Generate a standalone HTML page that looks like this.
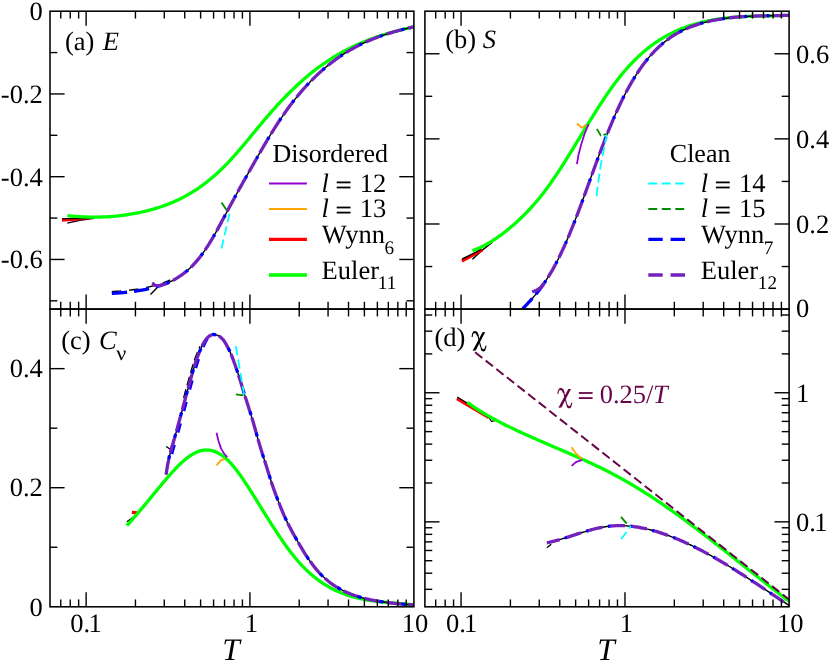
<!DOCTYPE html>
<html>
<head>
<meta charset="utf-8">
<title>Figure</title>
<style>
html,body{margin:0;padding:0;background:#ffffff;}
body{width:830px;height:662px;overflow:hidden;font-family:"Liberation Serif",serif;}
svg{display:block;will-change:transform;}
svg text{text-rendering:geometricPrecision;}
</style>
</head>
<body>
<svg width="830" height="662" viewBox="0 0 830 662">
<rect x="0" y="0" width="830" height="662" fill="#ffffff"/>
<defs>
<clipPath id="ca"><rect x="50" y="11.2" width="363.9" height="297.9"/></clipPath>
<clipPath id="cb"><rect x="424.9" y="11.2" width="364.2" height="297.9"/></clipPath>
<clipPath id="cc"><rect x="50" y="309.1" width="363.9" height="297.7"/></clipPath>
<clipPath id="cd"><rect x="424.9" y="309.1" width="364.2" height="297.7"/></clipPath>
</defs>
<g clip-path="url(#ca)">
<path d="M67.2 223.1 L80 220.3 L94 218.4" fill="none" stroke="#1a0028" stroke-width="1.4" stroke-linecap="butt" stroke-linejoin="round"/>
<path d="M62 220.2 L75 219.2 L90 217.8" fill="none" stroke="#ff0000" stroke-width="3.3" stroke-linecap="butt" stroke-linejoin="round"/>
<path d="M62 218.6 L75 218.6 L89 218.6" fill="none" stroke="#000000" stroke-width="1.4" stroke-linecap="butt" stroke-linejoin="round"/>
<path d="M67.4 215.61 L68.9 215.77 L70.4 215.92 L71.9 216.07 L73.4 216.2 L74.9 216.33 L76.4 216.45 L77.9 216.56 L79.4 216.66 L80.9 216.75 L82.4 216.83 L83.9 216.9 L85.39 216.96 L86.89 217.01 L88.39 217.06 L89.89 217.09 L91.39 217.11 L92.89 217.13 L94.39 217.13 L95.89 217.13 L97.39 217.11 L98.89 217.09 L100.39 217.06 L101.89 217.01 L103.39 216.96 L104.89 216.89 L106.39 216.82 L107.89 216.74 L109.39 216.64 L110.89 216.54 L112.39 216.42 L113.89 216.3 L115.39 216.16 L116.89 216.02 L118.39 215.86 L119.88 215.7 L121.38 215.52 L122.88 215.33 L124.38 215.13 L125.88 214.93 L127.38 214.71 L128.88 214.48 L130.38 214.24 L131.88 213.99 L133.38 213.72 L134.88 213.45 L136.38 213.17 L137.88 212.87 L139.38 212.57 L140.88 212.25 L142.38 211.92 L143.88 211.58 L145.38 211.23 L146.88 210.86 L148.38 210.49 L149.88 210.1 L151.38 209.69 L152.88 209.27 L154.37 208.84 L155.87 208.4 L157.37 207.93 L158.87 207.46 L160.37 206.96 L161.87 206.46 L163.37 205.93 L164.87 205.39 L166.37 204.83 L167.87 204.25 L169.37 203.66 L170.87 203.05 L172.37 202.42 L173.87 201.77 L175.37 201.1 L176.87 200.41 L178.37 199.7 L179.87 198.97 L181.37 198.23 L182.87 197.46 L184.37 196.66 L185.87 195.85 L187.37 195.01 L188.86 194.16 L190.36 193.28 L191.86 192.37 L193.36 191.44 L194.86 190.49 L196.36 189.52 L197.86 188.52 L199.36 187.49 L200.86 186.44 L202.36 185.36 L203.86 184.26 L205.36 183.13 L206.86 181.98 L208.36 180.79 L209.86 179.58 L211.36 178.34 L212.86 177.08 L214.36 175.78 L215.86 174.46 L217.36 173.11 L218.86 171.72 L220.36 170.31 L221.86 168.87 L223.35 167.39 L224.85 165.89 L226.35 164.35 L227.85 162.79 L229.35 161.19 L230.85 159.57 L232.35 157.93 L233.85 156.26 L235.35 154.58 L236.85 152.87 L238.35 151.14 L239.85 149.4 L241.35 147.64 L242.85 145.87 L244.35 144.09 L245.85 142.3 L247.35 140.5 L248.85 138.7 L250.35 136.88 L251.85 135.07 L253.35 133.25 L254.85 131.44 L256.35 129.62 L257.85 127.81 L259.34 126 L260.84 124.2 L262.34 122.41 L263.84 120.62 L265.34 118.85 L266.84 117.09 L268.34 115.34 L269.84 113.61 L271.34 111.9 L272.84 110.21 L274.34 108.53 L275.84 106.87 L277.34 105.23 L278.84 103.61 L280.34 102 L281.84 100.41 L283.34 98.84 L284.84 97.29 L286.34 95.76 L287.84 94.25 L289.34 92.75 L290.84 91.27 L292.34 89.82 L293.83 88.38 L295.33 86.95 L296.83 85.55 L298.33 84.17 L299.83 82.8 L301.33 81.46 L302.83 80.13 L304.33 78.82 L305.83 77.53 L307.33 76.26 L308.83 75.01 L310.33 73.78 L311.83 72.57 L313.33 71.38 L314.83 70.2 L316.33 69.05 L317.83 67.92 L319.33 66.8 L320.83 65.71 L322.33 64.63 L323.83 63.58 L325.33 62.54 L326.83 61.53 L328.32 60.53 L329.82 59.55 L331.32 58.59 L332.82 57.65 L334.32 56.73 L335.82 55.82 L337.32 54.93 L338.82 54.06 L340.32 53.21 L341.82 52.37 L343.32 51.55 L344.82 50.75 L346.32 49.96 L347.82 49.18 L349.32 48.43 L350.82 47.68 L352.32 46.96 L353.82 46.25 L355.32 45.55 L356.82 44.86 L358.32 44.19 L359.82 43.54 L361.32 42.9 L362.81 42.27 L364.31 41.65 L365.81 41.05 L367.31 40.46 L368.81 39.88 L370.31 39.31 L371.81 38.75 L373.31 38.21 L374.81 37.68 L376.31 37.15 L377.81 36.64 L379.31 36.14 L380.81 35.65 L382.31 35.17 L383.81 34.7 L385.31 34.24 L386.81 33.78 L388.31 33.34 L389.81 32.9 L391.31 32.48 L392.81 32.06 L394.31 31.65 L395.81 31.24 L397.3 30.85 L398.8 30.46 L400.3 30.08 L401.8 29.7 L403.3 29.33 L404.8 28.97 L406.3 28.61 L407.8 28.26 L409.3 27.91 L410.8 27.57 L412.3 27.23 L413.8 26.9" fill="none" stroke="#00ff00" stroke-width="3.3" stroke-linecap="butt" stroke-linejoin="round"/>
<path d="M167.12 283.07 L168.61 282.42 L170.11 281.74 L171.6 281.02 L173.1 280.26 L174.59 279.45 L176.09 278.6 L177.58 277.69 L179.08 276.74 L180.57 275.74 L182.07 274.68 L183.56 273.57 L185.06 272.39 L186.55 271.16 L188.05 269.86 L189.54 268.5 L191.04 267.07 L192.53 265.58 L194.03 264.01 L195.52 262.37 L197.02 260.65 L198.51 258.86 L200.01 256.99 L201.5 255.04 L203 253.01 L204.49 250.89 L205.99 248.68 L207.48 246.4 L208.98 244.04 L210.47 241.61 L211.97 239.11 L213.46 236.56 L214.96 233.95 L216.45 231.3 L217.95 228.61 L219.44 225.88 L220.94 223.12 L222.43 220.34 L223.93 217.54 L225.42 214.73 L226.92 211.91 L228.41 209.09 L229.91 206.28 L231.4 203.48 L232.9 200.69 L234.39 197.93 L235.89 195.19 L237.38 192.48 L238.88 189.79 L240.37 187.11 L241.87 184.45 L243.36 181.81 L244.86 179.16 L246.35 176.52 L247.85 173.88 L249.34 171.24 L250.84 168.6 L252.33 165.96 L253.83 163.33 L255.32 160.7 L256.82 158.08 L258.31 155.47 L259.81 152.87 L261.3 150.28 L262.8 147.71 L264.3 145.16 L265.79 142.62 L267.29 140.11 L268.78 137.62 L270.28 135.15 L271.77 132.71 L273.27 130.3 L274.76 127.92 L276.26 125.57 L277.75 123.25 L279.25 120.97 L280.74 118.73 L282.24 116.53 L283.73 114.36 L285.23 112.23 L286.72 110.14 L288.22 108.08 L289.71 106.06 L291.21 104.07 L292.7 102.12 L294.2 100.21 L295.69 98.33 L297.19 96.48 L298.68 94.67 L300.18 92.89 L301.67 91.15 L303.17 89.43 L304.66 87.75 L306.16 86.1 L307.65 84.49 L309.15 82.9 L310.64 81.34 L312.14 79.82 L313.63 78.32 L315.13 76.86 L316.62 75.42 L318.12 74.01 L319.61 72.63 L321.11 71.28 L322.6 69.96 L324.1 68.66 L325.59 67.39 L327.09 66.15 L328.58 64.93 L330.08 63.74 L331.57 62.58 L333.07 61.44 L334.56 60.32 L336.06 59.23 L337.55 58.16 L339.05 57.12 L340.54 56.1 L342.04 55.1 L343.53 54.12 L345.03 53.17 L346.52 52.24 L348.02 51.33 L349.51 50.44 L351.01 49.57 L352.5 48.72 L354 47.9 L355.49 47.09 L356.99 46.3 L358.48 45.53 L359.98 44.78 L361.47 44.04 L362.97 43.33 L364.46 42.63 L365.96 41.95 L367.45 41.28 L368.95 40.63 L370.44 40 L371.94 39.38 L373.43 38.78 L374.93 38.19 L376.42 37.62 L377.92 37.06 L379.41 36.51 L380.91 35.98 L382.4 35.46 L383.9 34.96 L385.39 34.46 L386.89 33.98 L388.38 33.51 L389.88 33.05 L391.37 32.6 L392.87 32.16 L394.36 31.73 L395.86 31.31 L397.35 30.9 L398.85 30.5 L400.34 30.11 L401.84 29.73 L403.33 29.35 L404.83 28.98 L406.32 28.62 L407.82 28.26 L409.31 27.91 L410.81 27.57 L412.3 27.23 L413.8 26.9" fill="none" stroke="#000000" stroke-width="1.4" stroke-linecap="butt" stroke-linejoin="round"/>
<path d="M111.8 291.6 L113.3 291.51 L114.79 291.42 L116.29 291.32 L117.78 291.22 L119.28 291.11 L120.77 290.99 L122.27 290.87 L123.76 290.73 L125.26 290.59 L126.75 290.44 L128.25 290.28 L129.74 290.12 L131.24 289.94 L132.73 289.75 L134.23 289.55 L135.72 289.34 L137.22 289.11 L138.71 288.88 L140.21 288.63 L141.7 288.36 L143.2 288.09 L144.69 287.8 L146.19 287.49 L147.68 287.17 L149.18 286.84 L150.67 286.49 L152.17 286.12 L153.66 285.73 L155.16 285.33 L156.65 284.91 L158.15 284.47 L159.64 284 L161.14 283.51 L162.63 283 L164.13 282.45 L165.62 281.88 L167.12 281.27 L168.61 280.62 L170.11 279.94" fill="none" stroke="#000000" stroke-width="1.4" stroke-linecap="butt" stroke-linejoin="round" stroke-dasharray="9.4 7.9"/>
<path d="M150.5 294.5 L157.5 287.3" fill="none" stroke="#000000" stroke-width="1.4" stroke-linecap="butt" stroke-linejoin="round"/>
<path d="M111.8 293.4 L113.3 293.31 L114.79 293.22 L116.29 293.12 L117.78 293.02 L119.28 292.91 L120.77 292.79 L122.27 292.67 L123.76 292.53 L125.26 292.39 L126.75 292.24 L128.25 292.08 L129.74 291.92 L131.24 291.74 L132.73 291.55 L134.23 291.35 L135.72 291.14 L137.22 290.91 L138.71 290.68 L140.21 290.43 L141.7 290.16 L143.2 289.89 L144.69 289.6 L146.19 289.29 L147.68 288.97 L149.18 288.64 L150.67 288.29 L152.17 287.92 L153.66 287.53 L155.16 287.13 L156.65 286.71 L158.15 286.27 L159.64 285.8 L161.14 285.31 L162.63 284.8 L164.13 284.25 L165.62 283.68 L167.12 283.07 L168.61 282.42" fill="none" stroke="#0000ff" stroke-width="3.3" stroke-linecap="butt" stroke-linejoin="round" stroke-dasharray="15.3 7.0"/>
<path d="M152.2 282.6 L154.5 284.6 L158.5 285.6" fill="none" stroke="#9400d3" stroke-width="1.8" stroke-linecap="butt" stroke-linejoin="round"/>
<path d="M152.6 283.2 L155 285.4 L160 285.6 L164.13 284.25 L165.62 283.68 L167.12 283.07 L168.61 282.42 L170.11 281.74 L171.6 281.02 L173.1 280.26 L174.59 279.45 L176.09 278.6 L177.58 277.69 L179.08 276.74 L180.57 275.74 L182.07 274.68 L183.56 273.57 L185.06 272.39 L186.55 271.16 L188.05 269.86 L189.54 268.5 L191.04 267.07 L192.53 265.58 L194.03 264.01 L195.52 262.37 L197.02 260.65 L198.51 258.86 L200.01 256.99 L201.5 255.04 L203 253.01 L204.49 250.89 L205.99 248.68 L207.48 246.4 L208.98 244.04 L210.47 241.61 L211.97 239.11 L213.46 236.56 L214.96 233.95 L216.45 231.3 L217.95 228.61 L219.44 225.88 L220.94 223.12 L222.43 220.34 L223.93 217.54 L225.42 214.73 L226.92 211.91 L228.41 209.09 L229.91 206.28 L231.4 203.48 L232.9 200.69 L234.39 197.93 L235.89 195.19 L237.38 192.48 L238.88 189.79 L240.37 187.11 L241.87 184.45 L243.36 181.81 L244.86 179.16 L246.35 176.52 L247.85 173.88 L249.34 171.24 L250.84 168.6 L252.33 165.96 L253.83 163.33 L255.32 160.7 L256.82 158.08 L258.31 155.47 L259.81 152.87 L261.3 150.28 L262.8 147.71 L264.3 145.16 L265.79 142.62 L267.29 140.11 L268.78 137.62 L270.28 135.15 L271.77 132.71 L273.27 130.3 L274.76 127.92 L276.26 125.57 L277.75 123.25 L279.25 120.97 L280.74 118.73 L282.24 116.53 L283.73 114.36 L285.23 112.23 L286.72 110.14 L288.22 108.08 L289.71 106.06 L291.21 104.07 L292.7 102.12 L294.2 100.21 L295.69 98.33 L297.19 96.48 L298.68 94.67 L300.18 92.89 L301.67 91.15 L303.17 89.43 L304.66 87.75 L306.16 86.1 L307.65 84.49 L309.15 82.9 L310.64 81.34 L312.14 79.82 L313.63 78.32 L315.13 76.86 L316.62 75.42 L318.12 74.01 L319.61 72.63 L321.11 71.28 L322.6 69.96 L324.1 68.66 L325.59 67.39 L327.09 66.15 L328.58 64.93 L330.08 63.74 L331.57 62.58 L333.07 61.44 L334.56 60.32 L336.06 59.23 L337.55 58.16 L339.05 57.12 L340.54 56.1 L342.04 55.1 L343.53 54.12 L345.03 53.17 L346.52 52.24 L348.02 51.33 L349.51 50.44 L351.01 49.57 L352.5 48.72 L354 47.9 L355.49 47.09 L356.99 46.3 L358.48 45.53 L359.98 44.78 L361.47 44.04 L362.97 43.33 L364.46 42.63 L365.96 41.95 L367.45 41.28 L368.95 40.63 L370.44 40 L371.94 39.38 L373.43 38.78 L374.93 38.19 L376.42 37.62 L377.92 37.06 L379.41 36.51 L380.91 35.98 L382.4 35.46 L383.9 34.96 L385.39 34.46 L386.89 33.98 L388.38 33.51 L389.88 33.05 L391.37 32.6 L392.87 32.16 L394.36 31.73 L395.86 31.31 L397.35 30.9 L398.85 30.5 L400.34 30.11 L401.84 29.73 L403.33 29.35 L404.83 28.98 L406.32 28.62 L407.82 28.26 L409.31 27.91 L410.81 27.57 L412.3 27.23 L413.8 26.9" fill="none" stroke="#0000ff" stroke-width="3.3" stroke-linecap="butt" stroke-linejoin="round" stroke-dasharray="3 19.3" stroke-dashoffset="-15.3"/>
<path d="M152.6 283.2 L155 285.4 L160 285.6 L164.13 284.25 L165.62 283.68 L167.12 283.07 L168.61 282.42 L170.11 281.74 L171.6 281.02 L173.1 280.26 L174.59 279.45 L176.09 278.6 L177.58 277.69 L179.08 276.74 L180.57 275.74 L182.07 274.68 L183.56 273.57 L185.06 272.39 L186.55 271.16 L188.05 269.86 L189.54 268.5 L191.04 267.07 L192.53 265.58 L194.03 264.01 L195.52 262.37 L197.02 260.65 L198.51 258.86 L200.01 256.99 L201.5 255.04 L203 253.01 L204.49 250.89 L205.99 248.68 L207.48 246.4 L208.98 244.04 L210.47 241.61 L211.97 239.11 L213.46 236.56 L214.96 233.95 L216.45 231.3 L217.95 228.61 L219.44 225.88 L220.94 223.12 L222.43 220.34 L223.93 217.54 L225.42 214.73 L226.92 211.91 L228.41 209.09 L229.91 206.28 L231.4 203.48 L232.9 200.69 L234.39 197.93 L235.89 195.19 L237.38 192.48 L238.88 189.79 L240.37 187.11 L241.87 184.45 L243.36 181.81 L244.86 179.16 L246.35 176.52 L247.85 173.88 L249.34 171.24 L250.84 168.6 L252.33 165.96 L253.83 163.33 L255.32 160.7 L256.82 158.08 L258.31 155.47 L259.81 152.87 L261.3 150.28 L262.8 147.71 L264.3 145.16 L265.79 142.62 L267.29 140.11 L268.78 137.62 L270.28 135.15 L271.77 132.71 L273.27 130.3 L274.76 127.92 L276.26 125.57 L277.75 123.25 L279.25 120.97 L280.74 118.73 L282.24 116.53 L283.73 114.36 L285.23 112.23 L286.72 110.14 L288.22 108.08 L289.71 106.06 L291.21 104.07 L292.7 102.12 L294.2 100.21 L295.69 98.33 L297.19 96.48 L298.68 94.67 L300.18 92.89 L301.67 91.15 L303.17 89.43 L304.66 87.75 L306.16 86.1 L307.65 84.49 L309.15 82.9 L310.64 81.34 L312.14 79.82 L313.63 78.32 L315.13 76.86 L316.62 75.42 L318.12 74.01 L319.61 72.63 L321.11 71.28 L322.6 69.96 L324.1 68.66 L325.59 67.39 L327.09 66.15 L328.58 64.93 L330.08 63.74 L331.57 62.58 L333.07 61.44 L334.56 60.32 L336.06 59.23 L337.55 58.16 L339.05 57.12 L340.54 56.1 L342.04 55.1 L343.53 54.12 L345.03 53.17 L346.52 52.24 L348.02 51.33 L349.51 50.44 L351.01 49.57 L352.5 48.72 L354 47.9 L355.49 47.09 L356.99 46.3 L358.48 45.53 L359.98 44.78 L361.47 44.04 L362.97 43.33 L364.46 42.63 L365.96 41.95 L367.45 41.28 L368.95 40.63 L370.44 40 L371.94 39.38 L373.43 38.78 L374.93 38.19 L376.42 37.62 L377.92 37.06 L379.41 36.51 L380.91 35.98 L382.4 35.46 L383.9 34.96 L385.39 34.46 L386.89 33.98 L388.38 33.51 L389.88 33.05 L391.37 32.6 L392.87 32.16 L394.36 31.73 L395.86 31.31 L397.35 30.9 L398.85 30.5 L400.34 30.11 L401.84 29.73 L403.33 29.35 L404.83 28.98 L406.32 28.62 L407.82 28.26 L409.31 27.91 L410.81 27.57 L412.3 27.23 L413.8 26.9" fill="none" stroke="#7221bc" stroke-width="3.3" stroke-linecap="butt" stroke-linejoin="round" stroke-dasharray="15.3 7.0"/>
<path d="M221.5 248.5 L229.5 213.6" fill="none" stroke="#00ffff" stroke-width="1.8" stroke-linecap="butt" stroke-linejoin="round" stroke-dasharray="9.2 4.3"/>
<path d="M221.5 202.4 L226.8 210.4" fill="none" stroke="#008b00" stroke-width="1.8" stroke-linecap="butt" stroke-linejoin="round" stroke-dasharray="9.2 4.3"/>
</g>
<g clip-path="url(#cb)">
<path d="M472.4 259.3 L482 250.4 L492.4 242.2" fill="none" stroke="#000000" stroke-width="1.4" stroke-linecap="butt" stroke-linejoin="round"/>
<path d="M461.9 261 L472 255.6 L482.3 249.8" fill="none" stroke="#ff0000" stroke-width="3.3" stroke-linecap="butt" stroke-linejoin="round"/>
<path d="M462.2 259 L472 254.2 L481 249.6" fill="none" stroke="#000000" stroke-width="1.4" stroke-linecap="butt" stroke-linejoin="round"/>
<path d="M472.4 250.7 L473.89 250.16 L475.39 249.58 L476.88 248.96 L478.38 248.32 L479.87 247.65 L481.37 246.94 L482.86 246.2 L484.36 245.44 L485.85 244.64 L487.35 243.81 L488.84 242.96 L490.34 242.07 L491.83 241.16 L493.33 240.22 L494.82 239.25 L496.32 238.25 L497.81 237.22 L499.31 236.17 L500.8 235.09 L502.3 233.99 L503.79 232.85 L505.29 231.69 L506.78 230.51 L508.28 229.3 L509.77 228.06 L511.27 226.8 L512.76 225.52 L514.25 224.21 L515.75 222.88 L517.24 221.52 L518.74 220.14 L520.23 218.73 L521.73 217.29 L523.22 215.83 L524.72 214.34 L526.21 212.82 L527.71 211.27 L529.2 209.69 L530.7 208.07 L532.19 206.43 L533.69 204.75 L535.18 203.03 L536.68 201.28 L538.17 199.5 L539.67 197.68 L541.16 195.82 L542.66 193.92 L544.15 191.98 L545.65 190 L547.14 187.99 L548.64 185.93 L550.13 183.84 L551.62 181.71 L553.12 179.56 L554.61 177.37 L556.11 175.15 L557.6 172.9 L559.1 170.63 L560.59 168.34 L562.09 166.02 L563.58 163.68 L565.08 161.32 L566.57 158.95 L568.07 156.56 L569.56 154.15 L571.06 151.73 L572.55 149.31 L574.05 146.87 L575.54 144.42 L577.04 141.97 L578.53 139.52 L580.03 137.07 L581.52 134.61 L583.02 132.15 L584.51 129.7 L586.01 127.25 L587.5 124.81 L589 122.38 L590.49 119.96 L591.98 117.54 L593.48 115.15 L594.97 112.76 L596.47 110.39 L597.96 108.04 L599.46 105.71 L600.95 103.41 L602.45 101.12 L603.94 98.86 L605.44 96.63 L606.93 94.42 L608.43 92.25 L609.92 90.1 L611.42 87.99 L612.91 85.92 L614.41 83.88 L615.9 81.88 L617.4 79.92 L618.89 78 L620.39 76.13 L621.88 74.29 L623.38 72.49 L624.87 70.74 L626.37 69.02 L627.86 67.34 L629.36 65.7 L630.85 64.1 L632.34 62.54 L633.84 61.01 L635.33 59.52 L636.83 58.06 L638.32 56.64 L639.82 55.26 L641.31 53.9 L642.81 52.59 L644.3 51.3 L645.8 50.05 L647.29 48.84 L648.79 47.65 L650.28 46.49 L651.78 45.37 L653.27 44.28 L654.77 43.21 L656.26 42.18 L657.76 41.17 L659.25 40.2 L660.75 39.25 L662.24 38.33 L663.74 37.44 L665.23 36.57 L666.73 35.73 L668.22 34.91 L669.72 34.12 L671.21 33.36 L672.7 32.61 L674.2 31.9 L675.69 31.2 L677.19 30.53 L678.68 29.88 L680.18 29.25 L681.67 28.64 L683.17 28.06 L684.66 27.49 L686.16 26.95 L687.65 26.42 L689.15 25.91 L690.64 25.42 L692.14 24.95 L693.63 24.49 L695.13 24.06 L696.62 23.63 L698.12 23.23 L699.61 22.84 L701.11 22.46 L702.6 22.1 L704.1 21.75 L705.59 21.42 L707.09 21.1 L708.58 20.79 L710.07 20.5 L711.57 20.22 L713.06 19.95 L714.56 19.7 L716.05 19.45 L717.55 19.22 L719.04 19 L720.54 18.79 L722.03 18.59 L723.53 18.4 L725.02 18.21 L726.52 18.04 L728.01 17.88 L729.51 17.73 L731 17.58 L732.5 17.45 L733.99 17.32 L735.49 17.2 L736.98 17.09 L738.48 16.98 L739.97 16.88 L741.47 16.79 L742.96 16.7 L744.46 16.62 L745.95 16.54 L747.45 16.47 L748.94 16.41 L750.43 16.34 L751.93 16.29 L753.42 16.23 L754.92 16.18 L756.41 16.14 L757.91 16.09 L759.4 16.05 L760.9 16.01 L762.39 15.98 L763.89 15.94 L765.38 15.91 L766.88 15.88 L768.37 15.84 L769.87 15.81 L771.36 15.78 L772.86 15.75 L774.35 15.72 L775.85 15.68 L777.34 15.65 L778.84 15.61 L780.33 15.58 L781.83 15.54 L783.32 15.5 L784.82 15.45 L786.31 15.4 L787.81 15.35 L789.3 15.3" fill="none" stroke="#00ff00" stroke-width="3.3" stroke-linecap="butt" stroke-linejoin="round"/>
<path d="M576.9 164.1 L578.5 155 L581.1 144.7 L584.5 134 L588.6 124.2" fill="none" stroke="#9400d3" stroke-width="1.8" stroke-linecap="butt" stroke-linejoin="round"/>
<path d="M576.9 123.5 L581.9 127.9 L586.1 124.7" fill="none" stroke="#ffa500" stroke-width="1.8" stroke-linecap="butt" stroke-linejoin="round"/>
<path d="M530.19 300.82 L531.69 299.15 L533.18 297.43 L534.68 295.67 L536.18 293.86 L537.68 291.99 L539.18 290.07 L540.67 288.08 L542.17 286.03 L543.67 283.91 L545.17 281.71 L546.66 279.45 L548.16 277.1 L549.66 274.67 L551.16 272.16 L552.66 269.56 L554.15 266.87 L555.65 264.08 L557.15 261.2 L558.65 258.23 L560.14 255.16 L561.64 252.02 L563.14 248.78 L564.64 245.47 L566.13 242.07 L567.63 238.6 L569.13 235.06 L570.63 231.44 L572.13 227.75 L573.62 224 L575.12 220.19 L576.62 216.31 L578.12 212.38 L579.61 208.4 L581.11 204.38 L582.61 200.33 L584.11 196.25 L585.61 192.14 L587.1 188.01 L588.6 183.88 L590.1 179.73 L591.6 175.59 L593.09 171.46 L594.59 167.34 L596.09 163.24 L597.59 159.16 L599.09 155.11 L600.58 151.11 L602.08 147.14 L603.58 143.23 L605.08 139.37 L606.57 135.56 L608.07 131.82 L609.57 128.14 L611.07 124.52 L612.57 120.97 L614.06 117.49 L615.56 114.07 L617.06 110.73 L618.56 107.46 L620.05 104.26 L621.55 101.14 L623.05 98.1 L624.55 95.14 L626.04 92.27 L627.54 89.47 L629.04 86.75 L630.54 84.1 L632.04 81.53 L633.53 79.04 L635.03 76.62 L636.53 74.27 L638.03 71.99 L639.52 69.78 L641.02 67.64 L642.52 65.57 L644.02 63.56 L645.52 61.62 L647.01 59.74 L648.51 57.92 L650.01 56.16 L651.51 54.46 L653 52.82 L654.5 51.23 L656 49.7 L657.5 48.23 L659 46.81 L660.49 45.44 L661.99 44.12 L663.49 42.85 L664.99 41.63 L666.48 40.45 L667.98 39.32 L669.48 38.24 L670.98 37.19 L672.48 36.19 L673.97 35.23 L675.47 34.31 L676.97 33.43 L678.47 32.58 L679.96 31.77 L681.46 30.99 L682.96 30.25 L684.46 29.54 L685.96 28.85 L687.45 28.2 L688.95 27.58 L690.45 26.98 L691.95 26.4 L693.44 25.85 L694.94 25.33 L696.44 24.82 L697.94 24.34 L699.43 23.88 L700.93 23.43 L702.43 23 L703.93 22.59 L705.43 22.19 L706.92 21.81 L708.42 21.45 L709.92 21.1 L711.42 20.76 L712.91 20.45 L714.41 20.14 L715.91 19.85 L717.41 19.58 L718.91 19.31 L720.4 19.06 L721.9 18.83 L723.4 18.6 L724.9 18.39 L726.39 18.19 L727.89 18 L729.39 17.82 L730.89 17.65 L732.39 17.49 L733.88 17.34 L735.38 17.2 L736.88 17.07 L738.38 16.95 L739.87 16.83 L741.37 16.73 L742.87 16.63 L744.37 16.54 L745.87 16.45 L747.36 16.37 L748.86 16.3 L750.36 16.23 L751.86 16.17 L753.35 16.12 L754.85 16.07 L756.35 16.02 L757.85 15.97 L759.34 15.93 L760.84 15.9 L762.34 15.86 L763.84 15.83 L765.34 15.8 L766.83 15.77 L768.33 15.75 L769.83 15.72 L771.33 15.69 L772.82 15.67 L774.32 15.64 L775.82 15.62 L777.32 15.59 L778.82 15.56 L780.31 15.53 L781.81 15.5 L783.31 15.47 L784.81 15.43 L786.3 15.39 L787.8 15.35 L789.3 15.3" fill="none" stroke="#000000" stroke-width="1.4" stroke-linecap="butt" stroke-linejoin="round"/>
<path d="M522.7 308.6 L524.2 307.1 L525.7 305.58 L527.19 304.03 L528.69 302.44 L530.19 300.82 L531.69 299.15 L533.18 297.43 L534.68 295.67 L536.18 293.86 L537.68 291.99 L539.18 290.07 L540.67 288.08 L542.17 286.03 L543.67 283.91 L545.17 281.71 L546.66 279.45" fill="none" stroke="#0000ff" stroke-width="3.3" stroke-linecap="butt" stroke-linejoin="round" stroke-dasharray="14 5.5 13 40"/>
<path d="M532.2 291.8 L536 290.6 L541 287.4 L545.17 281.71 L546.66 279.45 L548.16 277.1 L549.66 274.67 L551.16 272.16 L552.66 269.56 L554.15 266.87 L555.65 264.08 L557.15 261.2 L558.65 258.23 L560.14 255.16 L561.64 252.02 L563.14 248.78 L564.64 245.47 L566.13 242.07 L567.63 238.6 L569.13 235.06 L570.63 231.44 L572.13 227.75 L573.62 224 L575.12 220.19 L576.62 216.31 L578.12 212.38 L579.61 208.4 L581.11 204.38 L582.61 200.33 L584.11 196.25 L585.61 192.14 L587.1 188.01 L588.6 183.88 L590.1 179.73 L591.6 175.59 L593.09 171.46 L594.59 167.34 L596.09 163.24 L597.59 159.16 L599.09 155.11 L600.58 151.11 L602.08 147.14 L603.58 143.23 L605.08 139.37 L606.57 135.56 L608.07 131.82 L609.57 128.14 L611.07 124.52 L612.57 120.97 L614.06 117.49 L615.56 114.07 L617.06 110.73 L618.56 107.46 L620.05 104.26 L621.55 101.14 L623.05 98.1 L624.55 95.14 L626.04 92.27 L627.54 89.47 L629.04 86.75 L630.54 84.1 L632.04 81.53 L633.53 79.04 L635.03 76.62 L636.53 74.27 L638.03 71.99 L639.52 69.78 L641.02 67.64 L642.52 65.57 L644.02 63.56 L645.52 61.62 L647.01 59.74 L648.51 57.92 L650.01 56.16 L651.51 54.46 L653 52.82 L654.5 51.23 L656 49.7 L657.5 48.23 L659 46.81 L660.49 45.44 L661.99 44.12 L663.49 42.85 L664.99 41.63 L666.48 40.45 L667.98 39.32 L669.48 38.24 L670.98 37.19 L672.48 36.19 L673.97 35.23 L675.47 34.31 L676.97 33.43 L678.47 32.58 L679.96 31.77 L681.46 30.99 L682.96 30.25 L684.46 29.54 L685.96 28.85 L687.45 28.2 L688.95 27.58 L690.45 26.98 L691.95 26.4 L693.44 25.85 L694.94 25.33 L696.44 24.82 L697.94 24.34 L699.43 23.88 L700.93 23.43 L702.43 23 L703.93 22.59 L705.43 22.19 L706.92 21.81 L708.42 21.45 L709.92 21.1 L711.42 20.76 L712.91 20.45 L714.41 20.14 L715.91 19.85 L717.41 19.58 L718.91 19.31 L720.4 19.06 L721.9 18.83 L723.4 18.6 L724.9 18.39 L726.39 18.19 L727.89 18 L729.39 17.82 L730.89 17.65 L732.39 17.49 L733.88 17.34 L735.38 17.2 L736.88 17.07 L738.38 16.95 L739.87 16.83 L741.37 16.73 L742.87 16.63 L744.37 16.54 L745.87 16.45 L747.36 16.37 L748.86 16.3 L750.36 16.23 L751.86 16.17 L753.35 16.12 L754.85 16.07 L756.35 16.02 L757.85 15.97 L759.34 15.93 L760.84 15.9 L762.34 15.86 L763.84 15.83 L765.34 15.8 L766.83 15.77 L768.33 15.75 L769.83 15.72 L771.33 15.69 L772.82 15.67 L774.32 15.64 L775.82 15.62 L777.32 15.59 L778.82 15.56 L780.31 15.53 L781.81 15.5 L783.31 15.47 L784.81 15.43 L786.3 15.39 L787.8 15.35 L789.3 15.3" fill="none" stroke="#0000ff" stroke-width="3.3" stroke-linecap="butt" stroke-linejoin="round" stroke-dasharray="3 19.3" stroke-dashoffset="-15.3"/>
<path d="M532.2 291.8 L536 290.6 L541 287.4 L545.17 281.71 L546.66 279.45 L548.16 277.1 L549.66 274.67 L551.16 272.16 L552.66 269.56 L554.15 266.87 L555.65 264.08 L557.15 261.2 L558.65 258.23 L560.14 255.16 L561.64 252.02 L563.14 248.78 L564.64 245.47 L566.13 242.07 L567.63 238.6 L569.13 235.06 L570.63 231.44 L572.13 227.75 L573.62 224 L575.12 220.19 L576.62 216.31 L578.12 212.38 L579.61 208.4 L581.11 204.38 L582.61 200.33 L584.11 196.25 L585.61 192.14 L587.1 188.01 L588.6 183.88 L590.1 179.73 L591.6 175.59 L593.09 171.46 L594.59 167.34 L596.09 163.24 L597.59 159.16 L599.09 155.11 L600.58 151.11 L602.08 147.14 L603.58 143.23 L605.08 139.37 L606.57 135.56 L608.07 131.82 L609.57 128.14 L611.07 124.52 L612.57 120.97 L614.06 117.49 L615.56 114.07 L617.06 110.73 L618.56 107.46 L620.05 104.26 L621.55 101.14 L623.05 98.1 L624.55 95.14 L626.04 92.27 L627.54 89.47 L629.04 86.75 L630.54 84.1 L632.04 81.53 L633.53 79.04 L635.03 76.62 L636.53 74.27 L638.03 71.99 L639.52 69.78 L641.02 67.64 L642.52 65.57 L644.02 63.56 L645.52 61.62 L647.01 59.74 L648.51 57.92 L650.01 56.16 L651.51 54.46 L653 52.82 L654.5 51.23 L656 49.7 L657.5 48.23 L659 46.81 L660.49 45.44 L661.99 44.12 L663.49 42.85 L664.99 41.63 L666.48 40.45 L667.98 39.32 L669.48 38.24 L670.98 37.19 L672.48 36.19 L673.97 35.23 L675.47 34.31 L676.97 33.43 L678.47 32.58 L679.96 31.77 L681.46 30.99 L682.96 30.25 L684.46 29.54 L685.96 28.85 L687.45 28.2 L688.95 27.58 L690.45 26.98 L691.95 26.4 L693.44 25.85 L694.94 25.33 L696.44 24.82 L697.94 24.34 L699.43 23.88 L700.93 23.43 L702.43 23 L703.93 22.59 L705.43 22.19 L706.92 21.81 L708.42 21.45 L709.92 21.1 L711.42 20.76 L712.91 20.45 L714.41 20.14 L715.91 19.85 L717.41 19.58 L718.91 19.31 L720.4 19.06 L721.9 18.83 L723.4 18.6 L724.9 18.39 L726.39 18.19 L727.89 18 L729.39 17.82 L730.89 17.65 L732.39 17.49 L733.88 17.34 L735.38 17.2 L736.88 17.07 L738.38 16.95 L739.87 16.83 L741.37 16.73 L742.87 16.63 L744.37 16.54 L745.87 16.45 L747.36 16.37 L748.86 16.3 L750.36 16.23 L751.86 16.17 L753.35 16.12 L754.85 16.07 L756.35 16.02 L757.85 15.97 L759.34 15.93 L760.84 15.9 L762.34 15.86 L763.84 15.83 L765.34 15.8 L766.83 15.77 L768.33 15.75 L769.83 15.72 L771.33 15.69 L772.82 15.67 L774.32 15.64 L775.82 15.62 L777.32 15.59 L778.82 15.56 L780.31 15.53 L781.81 15.5 L783.31 15.47 L784.81 15.43 L786.3 15.39 L787.8 15.35 L789.3 15.3" fill="none" stroke="#7221bc" stroke-width="3.3" stroke-linecap="butt" stroke-linejoin="round" stroke-dasharray="15.3 7.0"/>
<path d="M596.6 196.1 L599.9 169.6 L606.8 134.7" fill="none" stroke="#00ffff" stroke-width="1.8" stroke-linecap="butt" stroke-linejoin="round" stroke-dasharray="9.2 4.3"/>
<path d="M596.9 128.9 L600.8 135.6 L606.2 134" fill="none" stroke="#008b00" stroke-width="1.8" stroke-linecap="butt" stroke-linejoin="round" stroke-dasharray="8 2.5"/>
</g>
<g clip-path="url(#cc)">
<path d="M126.9 521.8 L137.4 514.3" fill="none" stroke="#000000" stroke-width="1.4" stroke-linecap="butt" stroke-linejoin="round"/>
<path d="M131.9 512.3 L137.4 512.8" fill="none" stroke="#ff0000" stroke-width="3.3" stroke-linecap="butt" stroke-linejoin="round"/>
<path d="M126.9 525.6 L128.39 523.95 L129.89 522.29 L131.38 520.6 L132.88 518.9 L134.37 517.19 L135.87 515.45 L137.36 513.71 L138.85 511.95 L140.35 510.18 L141.84 508.4 L143.34 506.61 L144.83 504.82 L146.33 503.02 L147.82 501.21 L149.31 499.4 L150.81 497.59 L152.3 495.77 L153.8 493.96 L155.29 492.15 L156.79 490.34 L158.28 488.53 L159.77 486.73 L161.27 484.94 L162.76 483.15 L164.26 481.38 L165.75 479.61 L167.25 477.87 L168.74 476.14 L170.23 474.44 L171.73 472.77 L173.22 471.12 L174.72 469.51 L176.21 467.94 L177.71 466.42 L179.2 464.93 L180.69 463.5 L182.19 462.12 L183.68 460.79 L185.18 459.52 L186.67 458.32 L188.17 457.18 L189.66 456.12 L191.15 455.13 L192.65 454.21 L194.14 453.38 L195.64 452.63 L197.13 451.97 L198.62 451.4 L200.12 450.93 L201.61 450.55 L203.11 450.27 L204.6 450.1 L206.1 450.02 L207.59 450.04 L209.08 450.16 L210.58 450.37 L212.07 450.69 L213.57 451.11 L215.06 451.64 L216.56 452.26 L218.05 452.98 L219.54 453.81 L221.04 454.73 L222.53 455.76 L224.03 456.9 L225.52 458.13 L227.02 459.47 L228.51 460.91 L230 462.45 L231.5 464.08 L232.99 465.8 L234.49 467.61 L235.98 469.49 L237.48 471.44 L238.97 473.46 L240.46 475.53 L241.96 477.67 L243.45 479.85 L244.95 482.08 L246.44 484.34 L247.94 486.64 L249.43 488.97 L250.92 491.32 L252.42 493.69 L253.91 496.07 L255.41 498.46 L256.9 500.87 L258.4 503.28 L259.89 505.7 L261.38 508.11 L262.88 510.52 L264.37 512.93 L265.87 515.32 L267.36 517.71 L268.86 520.08 L270.35 522.44 L271.84 524.79 L273.34 527.12 L274.83 529.42 L276.33 531.71 L277.82 533.97 L279.32 536.2 L280.81 538.41 L282.3 540.59 L283.8 542.73 L285.29 544.84 L286.79 546.92 L288.28 548.96 L289.78 550.95 L291.27 552.91 L292.76 554.82 L294.26 556.69 L295.75 558.51 L297.25 560.28 L298.74 561.99 L300.24 563.66 L301.73 565.27 L303.22 566.84 L304.72 568.36 L306.21 569.83 L307.71 571.25 L309.2 572.63 L310.7 573.96 L312.19 575.25 L313.68 576.5 L315.18 577.7 L316.67 578.86 L318.17 579.98 L319.66 581.07 L321.16 582.11 L322.65 583.12 L324.14 584.09 L325.64 585.02 L327.13 585.92 L328.63 586.79 L330.12 587.62 L331.62 588.42 L333.11 589.19 L334.6 589.93 L336.1 590.64 L337.59 591.32 L339.09 591.97 L340.58 592.6 L342.07 593.2 L343.57 593.77 L345.06 594.32 L346.56 594.84 L348.05 595.35 L349.55 595.82 L351.04 596.28 L352.53 596.71 L354.03 597.13 L355.52 597.52 L357.02 597.89 L358.51 598.25 L360.01 598.59 L361.5 598.91 L362.99 599.21 L364.49 599.5 L365.98 599.78 L367.48 600.03 L368.97 600.28 L370.47 600.51 L371.96 600.73 L373.45 600.94 L374.95 601.14 L376.44 601.33 L377.94 601.51 L379.43 601.68 L380.93 601.84 L382.42 602 L383.91 602.15 L385.41 602.29 L386.9 602.43 L388.4 602.57 L389.89 602.7 L391.39 602.83 L392.88 602.95 L394.37 603.08 L395.87 603.2 L397.36 603.33 L398.86 603.45 L400.35 603.58 L401.85 603.71 L403.34 603.84 L404.83 603.97 L406.33 604.11 L407.82 604.26 L409.32 604.41 L410.81 604.57 L412.31 604.73 L413.8 604.91" fill="none" stroke="#00ff00" stroke-width="3.3" stroke-linecap="butt" stroke-linejoin="round"/>
<path d="M216.5 432.7 L218.5 441 L221 448.4 L224 453.5 L227.2 457.2" fill="none" stroke="#9400d3" stroke-width="1.8" stroke-linecap="butt" stroke-linejoin="round"/>
<path d="M216.5 465.4 L221 460.1 L224.7 459.2" fill="none" stroke="#ffa500" stroke-width="1.8" stroke-linecap="butt" stroke-linejoin="round"/>
<path d="M166.1 474.6 L167.59 465.08 L169.08 457.51 L170.58 451.58 L172.07 446.42 L173.56 441.5 L175.05 436.28 L176.55 430.84 L178.04 425.39 L179.53 419.94 L181.02 414.48 L182.51 409.02 L184.01 403.5 L185.5 397.94 L186.99 392.41 L188.48 386.97 L189.97 381.69 L191.47 376.4 L192.96 371.11 L194.45 366 L195.94 361.25 L197.44 357.04 L198.93 353.18 L200.42 349.51 L201.91 346.17 L203.4 343.27 L204.9 340.92 L206.39 338.93 L207.88 337.25 L209.37 336.07 L210.87 335.27 L212.36 334.67 L213.85 334.51 L215.34 334.74 L216.83 335.18 L218.33 335.73 L219.82 336.62 L221.31 337.85 L222.8 339.34 L224.29 341.29 L225.79 343.67 L227.28 346.38 L228.77 349.31 L230.26 352.39 L231.76 355.9 L233.25 359.8 L234.74 363.97 L236.23 368.28 L237.72 372.64 L239.22 377.25 L240.71 382.06 L242.2 386.98 L243.69 391.88 L245.18 396.65 L246.68 401.32 L248.17 405.96 L249.66 410.63 L251.15 415.4 L252.65 420.33 L254.14 425.5 L255.63 430.81 L257.12 436.13 L258.61 441.36 L260.11 446.38 L261.6 451.21 L263.09 455.94 L264.58 460.61 L266.08 465.28 L267.57 469.99 L269.06 474.79 L270.55 479.57 L272.04 484.16 L273.54 488.46 L275.03 492.59 L276.52 496.57 L278.01 500.45 L279.5 504.26 L281 508.03 L282.49 511.73 L283.98 515.26 L285.47 518.53 L286.97 521.64 L288.46 524.64 L289.95 527.54 L291.44 530.36 L292.93 533.1 L294.43 535.78 L295.92 538.42 L297.41 541.02 L298.9 543.6 L300.4 546.15 L301.89 548.66 L303.38 551.13 L304.87 553.53 L306.36 555.85 L307.86 558.09 L309.35 560.24 L310.84 562.28 L312.33 564.28 L313.82 566.23 L315.32 568.12 L316.81 569.94 L318.3 571.69 L319.79 573.34 L321.29 574.9 L322.78 576.36 L324.27 577.74 L325.76 579.07 L327.25 580.34 L328.75 581.55 L330.24 582.71 L331.73 583.81 L333.22 584.86 L334.72 585.85 L336.21 586.79 L337.7 587.69 L339.19 588.55 L340.68 589.38 L342.18 590.17 L343.67 590.93 L345.16 591.64 L346.65 592.32 L348.14 592.96 L349.64 593.58 L351.13 594.17 L352.62 594.73 L354.11 595.27 L355.61 595.79 L357.1 596.28 L358.59 596.74 L360.08 597.18 L361.57 597.6 L363.07 598.01 L364.56 598.39 L366.05 598.76 L367.54 599.11 L369.03 599.45 L370.53 599.77 L372.02 600.07 L373.51 600.35 L375 600.61 L376.5 600.87 L377.99 601.11 L379.48 601.35 L380.97 601.57 L382.46 601.79 L383.96 602 L385.45 602.2 L386.94 602.41 L388.43 602.61 L389.93 602.8 L391.42 602.99 L392.91 603.18 L394.4 603.35 L395.89 603.52 L397.39 603.68 L398.88 603.82 L400.37 603.96 L401.86 604.09 L403.35 604.21 L404.85 604.33 L406.34 604.44 L407.83 604.55 L409.32 604.65 L410.82 604.74 L412.31 604.83 L413.8 604.9" fill="none" stroke="#000000" stroke-width="1.4" stroke-linecap="butt" stroke-linejoin="round"/>
<path d="M183.6 397.94 L185.09 392.41 L186.58 386.97 L188.07 381.69 L189.57 376.4 L191.06 371.11 L192.55 366 L194.04 361.25 L195.54 357.04 L197.03 353.18 L198.52 349.51 L200.01 346.17" fill="none" stroke="#000000" stroke-width="1.4" stroke-linecap="butt" stroke-linejoin="round" stroke-dasharray="9 4"/>
<path d="M166.2 446.5 L170.2 449.3" fill="none" stroke="#000000" stroke-width="1.4" stroke-linecap="butt" stroke-linejoin="round"/>
<path d="M170.78 457.51 L172.28 451.58 L173.77 446.42 L175.26 441.5 L176.75 436.28 L178.25 430.84 L179.74 425.39 L181.23 419.94 L182.72 414.48 L184.21 409.02 L185.71 403.5 L187.2 397.94 L188.69 392.41 L190.18 386.97 L191.67 381.69 L193.17 376.4 L194.66 371.11 L196.15 366 L197.64 361.25 L199.14 357.04 L200.63 353.18 L202.06 349.51 L203.33 346.17 L204.59 343.27 L205.86 340.92 L207.13 338.93 L208.4 337.25 L209.67 336.07 L210.94 335.27 L212.36 334.67 L213.85 334.51" fill="none" stroke="#0000ff" stroke-width="3.3" stroke-linecap="butt" stroke-linejoin="round" stroke-dasharray="9.5 12.8" stroke-dashoffset="18.65"/>
<path d="M166.1 474.6 L167.59 465.08 L169.08 457.51 L170.58 451.58 L172.07 446.42 L173.56 441.5 L175.05 436.28 L176.55 430.84 L178.04 425.39 L179.53 419.94 L181.02 414.48 L182.51 409.02 L184.01 403.5 L185.5 397.94 L186.99 392.41 L188.48 386.97 L189.97 381.69 L191.47 376.4 L192.96 371.11 L194.45 366 L195.94 361.25 L197.44 357.04 L198.93 353.18 L200.42 349.51 L201.91 346.17 L203.4 343.27 L204.9 340.92 L206.39 338.93 L207.88 337.25 L209.37 336.07 L210.87 335.27 L212.36 334.67 L213.85 334.51 L215.34 334.74 L216.83 335.18 L218.33 335.73 L219.82 336.62 L221.31 337.85 L222.8 339.34 L224.29 341.29 L225.79 343.67 L227.28 346.38 L228.77 349.31 L230.26 352.39 L231.76 355.9 L233.25 359.8 L234.74 363.97 L236.23 368.28 L237.72 372.64 L239.22 377.25 L240.71 382.06 L242.2 386.98 L243.69 391.88 L245.18 396.65 L246.68 401.32 L248.17 405.96 L249.66 410.63 L251.15 415.4 L252.65 420.33 L254.14 425.5 L255.63 430.81 L257.12 436.13 L258.61 441.36 L260.11 446.38 L261.6 451.21 L263.09 455.94 L264.58 460.61 L266.08 465.28 L267.57 469.99 L269.06 474.79 L270.55 479.57 L272.04 484.16 L273.54 488.46 L275.03 492.59 L276.52 496.57 L278.01 500.45 L279.5 504.26 L281 508.03 L282.49 511.73 L283.98 515.26 L285.47 518.53 L286.97 521.64 L288.46 524.64 L289.95 527.54 L291.44 530.36 L292.93 533.1 L294.43 535.78 L295.92 538.42 L297.41 541.02 L298.9 543.6 L300.4 546.15 L301.89 548.66 L303.38 551.13 L304.87 553.53 L306.36 555.85 L307.86 558.09 L309.35 560.24 L310.84 562.28 L312.33 564.28 L313.82 566.23 L315.32 568.12 L316.81 569.94 L318.3 571.69 L319.79 573.34 L321.29 574.9 L322.78 576.36 L324.27 577.74 L325.76 579.07 L327.25 580.34 L328.75 581.55 L330.24 582.71 L331.73 583.81 L333.22 584.86 L334.72 585.85 L336.21 586.79 L337.7 587.69 L339.19 588.55 L340.68 589.38 L342.18 590.17 L343.67 590.93 L345.16 591.64 L346.65 592.32 L348.14 592.96 L349.64 593.58 L351.13 594.17 L352.62 594.73 L354.11 595.27 L355.61 595.79 L357.1 596.28 L358.59 596.74 L360.08 597.18 L361.57 597.6 L363.07 598.01 L364.56 598.39 L366.05 598.76 L367.54 599.11 L369.03 599.45 L370.53 599.77 L372.02 600.07 L373.51 600.35 L375 600.61 L376.5 600.87 L377.99 601.11 L379.48 601.35 L380.97 601.57 L382.46 601.79 L383.96 602 L385.45 602.2 L386.94 602.41 L388.43 602.61 L389.93 602.8 L391.42 602.99 L392.91 603.18 L394.4 603.35 L395.89 603.52 L397.39 603.68 L398.88 603.82 L400.37 603.96 L401.86 604.09 L403.35 604.21 L404.85 604.33 L406.34 604.44 L407.83 604.55 L409.32 604.65 L410.82 604.74 L412.31 604.83 L413.8 604.9" fill="none" stroke="#0000ff" stroke-width="3.3" stroke-linecap="butt" stroke-linejoin="round" stroke-dasharray="4.2 18.1" stroke-dashoffset="-15.3"/>
<path d="M166.1 474.6 L167.59 465.08 L169.08 457.51 L170.58 451.58 L172.07 446.42 L173.56 441.5 L175.05 436.28 L176.55 430.84 L178.04 425.39 L179.53 419.94 L181.02 414.48 L182.51 409.02 L184.01 403.5 L185.5 397.94 L186.99 392.41 L188.48 386.97 L189.97 381.69 L191.47 376.4 L192.96 371.11 L194.45 366 L195.94 361.25 L197.44 357.04 L198.93 353.18 L200.42 349.51 L201.91 346.17 L203.4 343.27 L204.9 340.92 L206.39 338.93 L207.88 337.25 L209.37 336.07 L210.87 335.27 L212.36 334.67 L213.85 334.51 L215.34 334.74 L216.83 335.18 L218.33 335.73 L219.82 336.62 L221.31 337.85 L222.8 339.34 L224.29 341.29 L225.79 343.67 L227.28 346.38 L228.77 349.31 L230.26 352.39 L231.76 355.9 L233.25 359.8 L234.74 363.97 L236.23 368.28 L237.72 372.64 L239.22 377.25 L240.71 382.06 L242.2 386.98 L243.69 391.88 L245.18 396.65 L246.68 401.32 L248.17 405.96 L249.66 410.63 L251.15 415.4 L252.65 420.33 L254.14 425.5 L255.63 430.81 L257.12 436.13 L258.61 441.36 L260.11 446.38 L261.6 451.21 L263.09 455.94 L264.58 460.61 L266.08 465.28 L267.57 469.99 L269.06 474.79 L270.55 479.57 L272.04 484.16 L273.54 488.46 L275.03 492.59 L276.52 496.57 L278.01 500.45 L279.5 504.26 L281 508.03 L282.49 511.73 L283.98 515.26 L285.47 518.53 L286.97 521.64 L288.46 524.64 L289.95 527.54 L291.44 530.36 L292.93 533.1 L294.43 535.78 L295.92 538.42 L297.41 541.02 L298.9 543.6 L300.4 546.15 L301.89 548.66 L303.38 551.13 L304.87 553.53 L306.36 555.85 L307.86 558.09 L309.35 560.24 L310.84 562.28 L312.33 564.28 L313.82 566.23 L315.32 568.12 L316.81 569.94 L318.3 571.69 L319.79 573.34 L321.29 574.9 L322.78 576.36 L324.27 577.74 L325.76 579.07 L327.25 580.34 L328.75 581.55 L330.24 582.71 L331.73 583.81 L333.22 584.86 L334.72 585.85 L336.21 586.79 L337.7 587.69 L339.19 588.55 L340.68 589.38 L342.18 590.17 L343.67 590.93 L345.16 591.64 L346.65 592.32 L348.14 592.96 L349.64 593.58 L351.13 594.17 L352.62 594.73 L354.11 595.27 L355.61 595.79 L357.1 596.28 L358.59 596.74 L360.08 597.18 L361.57 597.6 L363.07 598.01 L364.56 598.39 L366.05 598.76 L367.54 599.11 L369.03 599.45 L370.53 599.77 L372.02 600.07 L373.51 600.35 L375 600.61 L376.5 600.87 L377.99 601.11 L379.48 601.35 L380.97 601.57 L382.46 601.79 L383.96 602 L385.45 602.2 L386.94 602.41 L388.43 602.61 L389.93 602.8 L391.42 602.99 L392.91 603.18 L394.4 603.35 L395.89 603.52 L397.39 603.68 L398.88 603.82 L400.37 603.96 L401.86 604.09 L403.35 604.21 L404.85 604.33 L406.34 604.44 L407.83 604.55 L409.32 604.65 L410.82 604.74 L412.31 604.83 L413.8 604.9" fill="none" stroke="#7221bc" stroke-width="3.3" stroke-linecap="butt" stroke-linejoin="round" stroke-dasharray="15.3 7.0"/>
<path d="M235.9 346.2 L244.1 394.8" fill="none" stroke="#00ffff" stroke-width="1.8" stroke-linecap="butt" stroke-linejoin="round" stroke-dasharray="9.2 4.3"/>
<path d="M235.9 394.3 L243.4 395.3" fill="none" stroke="#008b00" stroke-width="1.8" stroke-linecap="butt" stroke-linejoin="round"/>
</g>
<g clip-path="url(#cd)">
<path d="M456.9 398.6 L470 406.4 L489 417.6" fill="none" stroke="#ff0000" stroke-width="3.3" stroke-linecap="butt" stroke-linejoin="round"/>
<path d="M457.2 396.9 L470 404.7 L489 417.4 L491.3 421.3 L494.4 420.9 L495.3 418.6" fill="none" stroke="#000000" stroke-width="1.2" stroke-linecap="butt" stroke-linejoin="round"/>
<path d="M467.4 402.31 L468.9 403.41 L470.39 404.48 L471.89 405.54 L473.39 406.57 L474.89 407.59 L476.38 408.59 L477.88 409.56 L479.38 410.52 L480.87 411.46 L482.37 412.39 L483.87 413.3 L485.37 414.19 L486.86 415.07 L488.36 415.93 L489.86 416.78 L491.36 417.62 L492.85 418.45 L494.35 419.26 L495.85 420.06 L497.34 420.85 L498.84 421.63 L500.34 422.41 L501.84 423.17 L503.33 423.93 L504.83 424.67 L506.33 425.42 L507.82 426.15 L509.32 426.88 L510.82 427.61 L512.32 428.33 L513.81 429.04 L515.31 429.75 L516.81 430.45 L518.31 431.15 L519.8 431.85 L521.3 432.54 L522.8 433.22 L524.29 433.91 L525.79 434.59 L527.29 435.26 L528.79 435.93 L530.28 436.6 L531.78 437.27 L533.28 437.93 L534.77 438.59 L536.27 439.25 L537.77 439.91 L539.27 440.56 L540.76 441.21 L542.26 441.86 L543.76 442.51 L545.25 443.16 L546.75 443.8 L548.25 444.45 L549.75 445.09 L551.24 445.74 L552.74 446.38 L554.24 447.02 L555.74 447.66 L557.23 448.3 L558.73 448.95 L560.23 449.59 L561.72 450.23 L563.22 450.88 L564.72 451.52 L566.22 452.17 L567.71 452.82 L569.21 453.47 L570.71 454.12 L572.2 454.78 L573.7 455.43 L575.2 456.09 L576.7 456.75 L578.19 457.41 L579.69 458.08 L581.19 458.75 L582.69 459.42 L584.18 460.1 L585.68 460.78 L587.18 461.47 L588.67 462.16 L590.17 462.85 L591.67 463.55 L593.17 464.25 L594.66 464.96 L596.16 465.67 L597.66 466.39 L599.15 467.11 L600.65 467.84 L602.15 468.57 L603.65 469.31 L605.14 470.06 L606.64 470.81 L608.14 471.57 L609.63 472.34 L611.13 473.11 L612.63 473.89 L614.13 474.68 L615.62 475.48 L617.12 476.28 L618.62 477.1 L620.12 477.92 L621.61 478.74 L623.11 479.58 L624.61 480.43 L626.1 481.28 L627.6 482.14 L629.1 483.01 L630.6 483.88 L632.09 484.77 L633.59 485.66 L635.09 486.56 L636.58 487.47 L638.08 488.38 L639.58 489.3 L641.08 490.23 L642.57 491.17 L644.07 492.11 L645.57 493.06 L647.07 494.02 L648.56 494.98 L650.06 495.95 L651.56 496.93 L653.05 497.91 L654.55 498.9 L656.05 499.9 L657.55 500.9 L659.04 501.91 L660.54 502.92 L662.04 503.94 L663.53 504.96 L665.03 506 L666.53 507.03 L668.03 508.08 L669.52 509.13 L671.02 510.18 L672.52 511.24 L674.01 512.3 L675.51 513.37 L677.01 514.45 L678.51 515.53 L680 516.61 L681.5 517.7 L683 518.79 L684.5 519.89 L685.99 520.99 L687.49 522.1 L688.99 523.21 L690.48 524.33 L691.98 525.45 L693.48 526.57 L694.98 527.7 L696.47 528.83 L697.97 529.97 L699.47 531.11 L700.96 532.25 L702.46 533.39 L703.96 534.54 L705.46 535.7 L706.95 536.85 L708.45 538.01 L709.95 539.17 L711.45 540.33 L712.94 541.5 L714.44 542.67 L715.94 543.84 L717.43 545.01 L718.93 546.19 L720.43 547.36 L721.93 548.54 L723.42 549.72 L724.92 550.91 L726.42 552.09 L727.91 553.27 L729.41 554.46 L730.91 555.65 L732.41 556.83 L733.9 558.02 L735.4 559.21 L736.9 560.4 L738.39 561.59 L739.89 562.78 L741.39 563.97 L742.89 565.16 L744.38 566.35 L745.88 567.54 L747.38 568.73 L748.88 569.92 L750.37 571.11 L751.87 572.3 L753.37 573.48 L754.86 574.67 L756.36 575.85 L757.86 577.04 L759.36 578.22 L760.85 579.4 L762.35 580.58 L763.85 581.76 L765.34 582.93 L766.84 584.11 L768.34 585.28 L769.84 586.45 L771.33 587.62 L772.83 588.78 L774.33 589.94 L775.83 591.1 L777.32 592.26 L778.82 593.41 L780.32 594.56 L781.81 595.71 L783.31 596.85 L784.81 598 L786.31 599.13 L787.8 600.27 L789.3 601.4" fill="none" stroke="#00ff00" stroke-width="3.3" stroke-linecap="butt" stroke-linejoin="round"/>
<path d="M475.1 352.27 L789.1 599.58" fill="none" stroke="#670748" stroke-width="2" stroke-linecap="butt" stroke-linejoin="round" stroke-dasharray="9.2 4.3"/>
<path d="M571.6 447.2 L575.9 453.4 L582.1 459.1" fill="none" stroke="#ffa500" stroke-width="1.8" stroke-linecap="butt" stroke-linejoin="round"/>
<path d="M571.6 465.9 L575.9 462.1 L582.1 459.8" fill="none" stroke="#9400d3" stroke-width="1.8" stroke-linecap="butt" stroke-linejoin="round"/>
<path d="M546.9 547.8 L551.2 544.3" fill="none" stroke="#000000" stroke-width="1.4" stroke-linecap="butt" stroke-linejoin="round"/>
<path d="M546.9 542.81 L548.4 542.5 L549.89 542.16 L551.39 541.8 L552.89 541.43 L554.38 541.05 L555.88 540.65 L557.37 540.23 L558.87 539.81 L560.37 539.37 L561.86 538.92 L563.36 538.47 L564.86 538 L566.35 537.53 L567.85 537.06 L569.34 536.58 L570.84 536.1 L572.34 535.61 L573.83 535.13 L575.33 534.64 L576.83 534.16 L578.32 533.68 L579.82 533.2 L581.31 532.73 L582.81 532.26 L584.31 531.81 L585.8 531.35 L587.3 530.91 L588.8 530.48 L590.29 530.06 L591.79 529.65 L593.29 529.26 L594.78 528.88 L596.28 528.52 L597.77 528.17 L599.27 527.84 L600.77 527.53 L602.26 527.25 L603.76 526.98 L605.26 526.74 L606.75 526.52 L608.25 526.32 L609.74 526.15 L611.24 526.01 L612.74 525.89 L614.23 525.79 L615.73 525.72 L617.23 525.67 L618.72 525.64 L620.22 525.64 L621.71 525.66 L623.21 525.7 L624.71 525.76 L626.2 525.85 L627.7 525.95 L629.2 526.08 L630.69 526.22 L632.19 526.39 L633.69 526.57 L635.18 526.78 L636.68 527 L638.17 527.24 L639.67 527.5 L641.17 527.78 L642.66 528.08 L644.16 528.39 L645.66 528.72 L647.15 529.06 L648.65 529.43 L650.14 529.8 L651.64 530.2 L653.14 530.6 L654.63 531.03 L656.13 531.46 L657.63 531.91 L659.12 532.38 L660.62 532.86 L662.11 533.35 L663.61 533.85 L665.11 534.37 L666.6 534.9 L668.1 535.45 L669.6 536 L671.09 536.57 L672.59 537.15 L674.09 537.74 L675.58 538.35 L677.08 538.96 L678.57 539.59 L680.07 540.23 L681.57 540.88 L683.06 541.54 L684.56 542.21 L686.06 542.89 L687.55 543.58 L689.05 544.29 L690.54 545 L692.04 545.72 L693.54 546.45 L695.03 547.2 L696.53 547.95 L698.03 548.71 L699.52 549.48 L701.02 550.26 L702.51 551.04 L704.01 551.84 L705.51 552.64 L707 553.46 L708.5 554.28 L710 555.1 L711.49 555.94 L712.99 556.78 L714.49 557.63 L715.98 558.49 L717.48 559.36 L718.97 560.23 L720.47 561.11 L721.97 561.99 L723.46 562.88 L724.96 563.78 L726.46 564.68 L727.95 565.59 L729.45 566.51 L730.94 567.43 L732.44 568.35 L733.94 569.28 L735.43 570.22 L736.93 571.16 L738.43 572.1 L739.92 573.05 L741.42 574 L742.91 574.96 L744.41 575.92 L745.91 576.88 L747.4 577.85 L748.9 578.82 L750.4 579.8 L751.89 580.78 L753.39 581.76 L754.89 582.74 L756.38 583.73 L757.88 584.71 L759.37 585.7 L760.87 586.7 L762.37 587.69 L763.86 588.69 L765.36 589.68 L766.86 590.68 L768.35 591.68 L769.85 592.68 L771.34 593.68 L772.84 594.69 L774.34 595.69 L775.83 596.69 L777.33 597.69 L778.83 598.7 L780.32 599.7 L781.82 600.7 L783.31 601.7 L784.81 602.7 L786.31 603.7 L787.8 604.7 L789.3 605.7" fill="none" stroke="#000000" stroke-width="1.4" stroke-linecap="butt" stroke-linejoin="round"/>
<path d="M546.9 542.81 L548.4 542.5 L549.89 542.16 L551.39 541.8 L552.89 541.43 L554.38 541.05 L555.88 540.65 L557.37 540.23 L558.87 539.81 L560.37 539.37 L561.86 538.92 L563.36 538.47 L564.86 538 L566.35 537.53 L567.85 537.06 L569.34 536.58 L570.84 536.1 L572.34 535.61 L573.83 535.13 L575.33 534.64 L576.83 534.16 L578.32 533.68 L579.82 533.2 L581.31 532.73 L582.81 532.26 L584.31 531.81 L585.8 531.35 L587.3 530.91 L588.8 530.48 L590.29 530.06 L591.79 529.65 L593.29 529.26 L594.78 528.88 L596.28 528.52 L597.77 528.17 L599.27 527.84 L600.77 527.53 L602.26 527.25 L603.76 526.98 L605.26 526.74 L606.75 526.52 L608.25 526.32 L609.74 526.15 L611.24 526.01 L612.74 525.89 L614.23 525.79 L615.73 525.72 L617.23 525.67 L618.72 525.64 L620.22 525.64 L621.71 525.66 L623.21 525.7 L624.71 525.76 L626.2 525.85 L627.7 525.95 L629.2 526.08 L630.69 526.22 L632.19 526.39 L633.69 526.57 L635.18 526.78 L636.68 527 L638.17 527.24 L639.67 527.5 L641.17 527.78 L642.66 528.08 L644.16 528.39 L645.66 528.72 L647.15 529.06 L648.65 529.43 L650.14 529.8 L651.64 530.2 L653.14 530.6 L654.63 531.03 L656.13 531.46 L657.63 531.91 L659.12 532.38 L660.62 532.86 L662.11 533.35 L663.61 533.85 L665.11 534.37 L666.6 534.9 L668.1 535.45 L669.6 536 L671.09 536.57 L672.59 537.15 L674.09 537.74 L675.58 538.35 L677.08 538.96 L678.57 539.59 L680.07 540.23 L681.57 540.88 L683.06 541.54 L684.56 542.21 L686.06 542.89 L687.55 543.58 L689.05 544.29 L690.54 545 L692.04 545.72 L693.54 546.45 L695.03 547.2 L696.53 547.95 L698.03 548.71 L699.52 549.48 L701.02 550.26 L702.51 551.04 L704.01 551.84 L705.51 552.64 L707 553.46 L708.5 554.28 L710 555.1 L711.49 555.94 L712.99 556.78 L714.49 557.63 L715.98 558.49 L717.48 559.36 L718.97 560.23 L720.47 561.11 L721.97 561.99 L723.46 562.88 L724.96 563.78 L726.46 564.68 L727.95 565.59 L729.45 566.51 L730.94 567.43 L732.44 568.35 L733.94 569.28 L735.43 570.22 L736.93 571.16 L738.43 572.1 L739.92 573.05 L741.42 574 L742.91 574.96 L744.41 575.92 L745.91 576.88 L747.4 577.85 L748.9 578.82 L750.4 579.8 L751.89 580.78 L753.39 581.76 L754.89 582.74 L756.38 583.73 L757.88 584.71 L759.37 585.7 L760.87 586.7 L762.37 587.69 L763.86 588.69 L765.36 589.68 L766.86 590.68 L768.35 591.68 L769.85 592.68 L771.34 593.68 L772.84 594.69 L774.34 595.69 L775.83 596.69 L777.33 597.69 L778.83 598.7 L780.32 599.7 L781.82 600.7 L783.31 601.7 L784.81 602.7 L786.31 603.7 L787.8 604.7 L789.3 605.7" fill="none" stroke="#0000ff" stroke-width="3.3" stroke-linecap="butt" stroke-linejoin="round" stroke-dasharray="2.3 20.0" stroke-dashoffset="3.6"/>
<path d="M546.9 542.81 L548.4 542.5 L549.89 542.16 L551.39 541.8 L552.89 541.43 L554.38 541.05 L555.88 540.65 L557.37 540.23 L558.87 539.81 L560.37 539.37 L561.86 538.92 L563.36 538.47 L564.86 538 L566.35 537.53 L567.85 537.06 L569.34 536.58 L570.84 536.1 L572.34 535.61 L573.83 535.13 L575.33 534.64 L576.83 534.16 L578.32 533.68 L579.82 533.2 L581.31 532.73 L582.81 532.26 L584.31 531.81 L585.8 531.35 L587.3 530.91 L588.8 530.48 L590.29 530.06 L591.79 529.65 L593.29 529.26 L594.78 528.88 L596.28 528.52 L597.77 528.17 L599.27 527.84 L600.77 527.53 L602.26 527.25 L603.76 526.98 L605.26 526.74 L606.75 526.52 L608.25 526.32 L609.74 526.15 L611.24 526.01 L612.74 525.89 L614.23 525.79 L615.73 525.72 L617.23 525.67 L618.72 525.64 L620.22 525.64 L621.71 525.66 L623.21 525.7 L624.71 525.76 L626.2 525.85 L627.7 525.95 L629.2 526.08 L630.69 526.22 L632.19 526.39 L633.69 526.57 L635.18 526.78 L636.68 527 L638.17 527.24 L639.67 527.5 L641.17 527.78 L642.66 528.08 L644.16 528.39 L645.66 528.72 L647.15 529.06 L648.65 529.43 L650.14 529.8 L651.64 530.2 L653.14 530.6 L654.63 531.03 L656.13 531.46 L657.63 531.91 L659.12 532.38 L660.62 532.86 L662.11 533.35 L663.61 533.85 L665.11 534.37 L666.6 534.9 L668.1 535.45 L669.6 536 L671.09 536.57 L672.59 537.15 L674.09 537.74 L675.58 538.35 L677.08 538.96 L678.57 539.59 L680.07 540.23 L681.57 540.88 L683.06 541.54 L684.56 542.21 L686.06 542.89 L687.55 543.58 L689.05 544.29 L690.54 545 L692.04 545.72 L693.54 546.45 L695.03 547.2 L696.53 547.95 L698.03 548.71 L699.52 549.48 L701.02 550.26 L702.51 551.04 L704.01 551.84 L705.51 552.64 L707 553.46 L708.5 554.28 L710 555.1 L711.49 555.94 L712.99 556.78 L714.49 557.63 L715.98 558.49 L717.48 559.36 L718.97 560.23 L720.47 561.11 L721.97 561.99 L723.46 562.88 L724.96 563.78 L726.46 564.68 L727.95 565.59 L729.45 566.51 L730.94 567.43 L732.44 568.35 L733.94 569.28 L735.43 570.22 L736.93 571.16 L738.43 572.1 L739.92 573.05 L741.42 574 L742.91 574.96 L744.41 575.92 L745.91 576.88 L747.4 577.85 L748.9 578.82 L750.4 579.8 L751.89 580.78 L753.39 581.76 L754.89 582.74 L756.38 583.73 L757.88 584.71 L759.37 585.7 L760.87 586.7 L762.37 587.69 L763.86 588.69 L765.36 589.68 L766.86 590.68 L768.35 591.68 L769.85 592.68 L771.34 593.68 L772.84 594.69 L774.34 595.69 L775.83 596.69 L777.33 597.69 L778.83 598.7 L780.32 599.7 L781.82 600.7 L783.31 601.7 L784.81 602.7 L786.31 603.7 L787.8 604.7 L789.3 605.7" fill="none" stroke="#7221bc" stroke-width="3.3" stroke-linecap="butt" stroke-linejoin="round" stroke-dasharray="14.8 7.5" stroke-dashoffset="1.6"/>
<path d="M621 516.8 L626.7 523.6" fill="none" stroke="#008b00" stroke-width="1.8" stroke-linecap="butt" stroke-linejoin="round"/>
<path d="M621 539.3 L631 526.1" fill="none" stroke="#00ffff" stroke-width="1.8" stroke-linecap="butt" stroke-linejoin="round" stroke-dasharray="9.2 4.3"/>
</g>
<line x1="60.76" y1="11.2" x2="60.76" y2="18.55" stroke="#000" stroke-width="1.4"/>
<line x1="60.76" y1="309.1" x2="60.76" y2="301.75" stroke="#000" stroke-width="1.4"/>
<line x1="70.26" y1="11.2" x2="70.26" y2="18.55" stroke="#000" stroke-width="1.4"/>
<line x1="70.26" y1="309.1" x2="70.26" y2="301.75" stroke="#000" stroke-width="1.4"/>
<line x1="78.64" y1="11.2" x2="78.64" y2="18.55" stroke="#000" stroke-width="1.4"/>
<line x1="78.64" y1="309.1" x2="78.64" y2="301.75" stroke="#000" stroke-width="1.4"/>
<line x1="86.13" y1="11.2" x2="86.13" y2="25.8" stroke="#000" stroke-width="1.4"/>
<line x1="86.13" y1="309.1" x2="86.13" y2="294.5" stroke="#000" stroke-width="1.4"/>
<line x1="135.44" y1="11.2" x2="135.44" y2="18.55" stroke="#000" stroke-width="1.4"/>
<line x1="135.44" y1="309.1" x2="135.44" y2="301.75" stroke="#000" stroke-width="1.4"/>
<line x1="164.28" y1="11.2" x2="164.28" y2="18.55" stroke="#000" stroke-width="1.4"/>
<line x1="164.28" y1="309.1" x2="164.28" y2="301.75" stroke="#000" stroke-width="1.4"/>
<line x1="184.74" y1="11.2" x2="184.74" y2="18.55" stroke="#000" stroke-width="1.4"/>
<line x1="184.74" y1="309.1" x2="184.74" y2="301.75" stroke="#000" stroke-width="1.4"/>
<line x1="200.61" y1="11.2" x2="200.61" y2="18.55" stroke="#000" stroke-width="1.4"/>
<line x1="200.61" y1="309.1" x2="200.61" y2="301.75" stroke="#000" stroke-width="1.4"/>
<line x1="213.58" y1="11.2" x2="213.58" y2="18.55" stroke="#000" stroke-width="1.4"/>
<line x1="213.58" y1="309.1" x2="213.58" y2="301.75" stroke="#000" stroke-width="1.4"/>
<line x1="224.55" y1="11.2" x2="224.55" y2="18.55" stroke="#000" stroke-width="1.4"/>
<line x1="224.55" y1="309.1" x2="224.55" y2="301.75" stroke="#000" stroke-width="1.4"/>
<line x1="234.05" y1="11.2" x2="234.05" y2="18.55" stroke="#000" stroke-width="1.4"/>
<line x1="234.05" y1="309.1" x2="234.05" y2="301.75" stroke="#000" stroke-width="1.4"/>
<line x1="242.42" y1="11.2" x2="242.42" y2="18.55" stroke="#000" stroke-width="1.4"/>
<line x1="242.42" y1="309.1" x2="242.42" y2="301.75" stroke="#000" stroke-width="1.4"/>
<line x1="249.92" y1="11.2" x2="249.92" y2="25.8" stroke="#000" stroke-width="1.4"/>
<line x1="249.92" y1="309.1" x2="249.92" y2="294.5" stroke="#000" stroke-width="1.4"/>
<line x1="299.22" y1="11.2" x2="299.22" y2="18.55" stroke="#000" stroke-width="1.4"/>
<line x1="299.22" y1="309.1" x2="299.22" y2="301.75" stroke="#000" stroke-width="1.4"/>
<line x1="328.06" y1="11.2" x2="328.06" y2="18.55" stroke="#000" stroke-width="1.4"/>
<line x1="328.06" y1="309.1" x2="328.06" y2="301.75" stroke="#000" stroke-width="1.4"/>
<line x1="348.52" y1="11.2" x2="348.52" y2="18.55" stroke="#000" stroke-width="1.4"/>
<line x1="348.52" y1="309.1" x2="348.52" y2="301.75" stroke="#000" stroke-width="1.4"/>
<line x1="364.4" y1="11.2" x2="364.4" y2="18.55" stroke="#000" stroke-width="1.4"/>
<line x1="364.4" y1="309.1" x2="364.4" y2="301.75" stroke="#000" stroke-width="1.4"/>
<line x1="377.37" y1="11.2" x2="377.37" y2="18.55" stroke="#000" stroke-width="1.4"/>
<line x1="377.37" y1="309.1" x2="377.37" y2="301.75" stroke="#000" stroke-width="1.4"/>
<line x1="388.33" y1="11.2" x2="388.33" y2="18.55" stroke="#000" stroke-width="1.4"/>
<line x1="388.33" y1="309.1" x2="388.33" y2="301.75" stroke="#000" stroke-width="1.4"/>
<line x1="397.83" y1="11.2" x2="397.83" y2="18.55" stroke="#000" stroke-width="1.4"/>
<line x1="397.83" y1="309.1" x2="397.83" y2="301.75" stroke="#000" stroke-width="1.4"/>
<line x1="406.21" y1="11.2" x2="406.21" y2="18.55" stroke="#000" stroke-width="1.4"/>
<line x1="406.21" y1="309.1" x2="406.21" y2="301.75" stroke="#000" stroke-width="1.4"/>
<line x1="60.76" y1="309.1" x2="60.76" y2="316.45" stroke="#000" stroke-width="1.4"/>
<line x1="60.76" y1="606.8" x2="60.76" y2="599.45" stroke="#000" stroke-width="1.4"/>
<line x1="70.26" y1="309.1" x2="70.26" y2="316.45" stroke="#000" stroke-width="1.4"/>
<line x1="70.26" y1="606.8" x2="70.26" y2="599.45" stroke="#000" stroke-width="1.4"/>
<line x1="78.64" y1="309.1" x2="78.64" y2="316.45" stroke="#000" stroke-width="1.4"/>
<line x1="78.64" y1="606.8" x2="78.64" y2="599.45" stroke="#000" stroke-width="1.4"/>
<line x1="86.13" y1="309.1" x2="86.13" y2="323.7" stroke="#000" stroke-width="1.4"/>
<line x1="86.13" y1="606.8" x2="86.13" y2="592.2" stroke="#000" stroke-width="1.4"/>
<line x1="135.44" y1="309.1" x2="135.44" y2="316.45" stroke="#000" stroke-width="1.4"/>
<line x1="135.44" y1="606.8" x2="135.44" y2="599.45" stroke="#000" stroke-width="1.4"/>
<line x1="164.28" y1="309.1" x2="164.28" y2="316.45" stroke="#000" stroke-width="1.4"/>
<line x1="164.28" y1="606.8" x2="164.28" y2="599.45" stroke="#000" stroke-width="1.4"/>
<line x1="184.74" y1="309.1" x2="184.74" y2="316.45" stroke="#000" stroke-width="1.4"/>
<line x1="184.74" y1="606.8" x2="184.74" y2="599.45" stroke="#000" stroke-width="1.4"/>
<line x1="200.61" y1="309.1" x2="200.61" y2="316.45" stroke="#000" stroke-width="1.4"/>
<line x1="200.61" y1="606.8" x2="200.61" y2="599.45" stroke="#000" stroke-width="1.4"/>
<line x1="213.58" y1="309.1" x2="213.58" y2="316.45" stroke="#000" stroke-width="1.4"/>
<line x1="213.58" y1="606.8" x2="213.58" y2="599.45" stroke="#000" stroke-width="1.4"/>
<line x1="224.55" y1="309.1" x2="224.55" y2="316.45" stroke="#000" stroke-width="1.4"/>
<line x1="224.55" y1="606.8" x2="224.55" y2="599.45" stroke="#000" stroke-width="1.4"/>
<line x1="234.05" y1="309.1" x2="234.05" y2="316.45" stroke="#000" stroke-width="1.4"/>
<line x1="234.05" y1="606.8" x2="234.05" y2="599.45" stroke="#000" stroke-width="1.4"/>
<line x1="242.42" y1="309.1" x2="242.42" y2="316.45" stroke="#000" stroke-width="1.4"/>
<line x1="242.42" y1="606.8" x2="242.42" y2="599.45" stroke="#000" stroke-width="1.4"/>
<line x1="249.92" y1="309.1" x2="249.92" y2="323.7" stroke="#000" stroke-width="1.4"/>
<line x1="249.92" y1="606.8" x2="249.92" y2="592.2" stroke="#000" stroke-width="1.4"/>
<line x1="299.22" y1="309.1" x2="299.22" y2="316.45" stroke="#000" stroke-width="1.4"/>
<line x1="299.22" y1="606.8" x2="299.22" y2="599.45" stroke="#000" stroke-width="1.4"/>
<line x1="328.06" y1="309.1" x2="328.06" y2="316.45" stroke="#000" stroke-width="1.4"/>
<line x1="328.06" y1="606.8" x2="328.06" y2="599.45" stroke="#000" stroke-width="1.4"/>
<line x1="348.52" y1="309.1" x2="348.52" y2="316.45" stroke="#000" stroke-width="1.4"/>
<line x1="348.52" y1="606.8" x2="348.52" y2="599.45" stroke="#000" stroke-width="1.4"/>
<line x1="364.4" y1="309.1" x2="364.4" y2="316.45" stroke="#000" stroke-width="1.4"/>
<line x1="364.4" y1="606.8" x2="364.4" y2="599.45" stroke="#000" stroke-width="1.4"/>
<line x1="377.37" y1="309.1" x2="377.37" y2="316.45" stroke="#000" stroke-width="1.4"/>
<line x1="377.37" y1="606.8" x2="377.37" y2="599.45" stroke="#000" stroke-width="1.4"/>
<line x1="388.33" y1="309.1" x2="388.33" y2="316.45" stroke="#000" stroke-width="1.4"/>
<line x1="388.33" y1="606.8" x2="388.33" y2="599.45" stroke="#000" stroke-width="1.4"/>
<line x1="397.83" y1="309.1" x2="397.83" y2="316.45" stroke="#000" stroke-width="1.4"/>
<line x1="397.83" y1="606.8" x2="397.83" y2="599.45" stroke="#000" stroke-width="1.4"/>
<line x1="406.21" y1="309.1" x2="406.21" y2="316.45" stroke="#000" stroke-width="1.4"/>
<line x1="406.21" y1="606.8" x2="406.21" y2="599.45" stroke="#000" stroke-width="1.4"/>
<line x1="435.67" y1="11.2" x2="435.67" y2="18.55" stroke="#000" stroke-width="1.4"/>
<line x1="435.67" y1="309.1" x2="435.67" y2="301.75" stroke="#000" stroke-width="1.4"/>
<line x1="445.18" y1="11.2" x2="445.18" y2="18.55" stroke="#000" stroke-width="1.4"/>
<line x1="445.18" y1="309.1" x2="445.18" y2="301.75" stroke="#000" stroke-width="1.4"/>
<line x1="453.56" y1="11.2" x2="453.56" y2="18.55" stroke="#000" stroke-width="1.4"/>
<line x1="453.56" y1="309.1" x2="453.56" y2="301.75" stroke="#000" stroke-width="1.4"/>
<line x1="461.06" y1="11.2" x2="461.06" y2="25.8" stroke="#000" stroke-width="1.4"/>
<line x1="461.06" y1="309.1" x2="461.06" y2="294.5" stroke="#000" stroke-width="1.4"/>
<line x1="510.41" y1="11.2" x2="510.41" y2="18.55" stroke="#000" stroke-width="1.4"/>
<line x1="510.41" y1="309.1" x2="510.41" y2="301.75" stroke="#000" stroke-width="1.4"/>
<line x1="539.27" y1="11.2" x2="539.27" y2="18.55" stroke="#000" stroke-width="1.4"/>
<line x1="539.27" y1="309.1" x2="539.27" y2="301.75" stroke="#000" stroke-width="1.4"/>
<line x1="559.75" y1="11.2" x2="559.75" y2="18.55" stroke="#000" stroke-width="1.4"/>
<line x1="559.75" y1="309.1" x2="559.75" y2="301.75" stroke="#000" stroke-width="1.4"/>
<line x1="575.64" y1="11.2" x2="575.64" y2="18.55" stroke="#000" stroke-width="1.4"/>
<line x1="575.64" y1="309.1" x2="575.64" y2="301.75" stroke="#000" stroke-width="1.4"/>
<line x1="588.62" y1="11.2" x2="588.62" y2="18.55" stroke="#000" stroke-width="1.4"/>
<line x1="588.62" y1="309.1" x2="588.62" y2="301.75" stroke="#000" stroke-width="1.4"/>
<line x1="599.59" y1="11.2" x2="599.59" y2="18.55" stroke="#000" stroke-width="1.4"/>
<line x1="599.59" y1="309.1" x2="599.59" y2="301.75" stroke="#000" stroke-width="1.4"/>
<line x1="609.1" y1="11.2" x2="609.1" y2="18.55" stroke="#000" stroke-width="1.4"/>
<line x1="609.1" y1="309.1" x2="609.1" y2="301.75" stroke="#000" stroke-width="1.4"/>
<line x1="617.48" y1="11.2" x2="617.48" y2="18.55" stroke="#000" stroke-width="1.4"/>
<line x1="617.48" y1="309.1" x2="617.48" y2="301.75" stroke="#000" stroke-width="1.4"/>
<line x1="624.98" y1="11.2" x2="624.98" y2="25.8" stroke="#000" stroke-width="1.4"/>
<line x1="624.98" y1="309.1" x2="624.98" y2="294.5" stroke="#000" stroke-width="1.4"/>
<line x1="674.33" y1="11.2" x2="674.33" y2="18.55" stroke="#000" stroke-width="1.4"/>
<line x1="674.33" y1="309.1" x2="674.33" y2="301.75" stroke="#000" stroke-width="1.4"/>
<line x1="703.19" y1="11.2" x2="703.19" y2="18.55" stroke="#000" stroke-width="1.4"/>
<line x1="703.19" y1="309.1" x2="703.19" y2="301.75" stroke="#000" stroke-width="1.4"/>
<line x1="723.67" y1="11.2" x2="723.67" y2="18.55" stroke="#000" stroke-width="1.4"/>
<line x1="723.67" y1="309.1" x2="723.67" y2="301.75" stroke="#000" stroke-width="1.4"/>
<line x1="739.56" y1="11.2" x2="739.56" y2="18.55" stroke="#000" stroke-width="1.4"/>
<line x1="739.56" y1="309.1" x2="739.56" y2="301.75" stroke="#000" stroke-width="1.4"/>
<line x1="752.54" y1="11.2" x2="752.54" y2="18.55" stroke="#000" stroke-width="1.4"/>
<line x1="752.54" y1="309.1" x2="752.54" y2="301.75" stroke="#000" stroke-width="1.4"/>
<line x1="763.51" y1="11.2" x2="763.51" y2="18.55" stroke="#000" stroke-width="1.4"/>
<line x1="763.51" y1="309.1" x2="763.51" y2="301.75" stroke="#000" stroke-width="1.4"/>
<line x1="773.01" y1="11.2" x2="773.01" y2="18.55" stroke="#000" stroke-width="1.4"/>
<line x1="773.01" y1="309.1" x2="773.01" y2="301.75" stroke="#000" stroke-width="1.4"/>
<line x1="781.4" y1="11.2" x2="781.4" y2="18.55" stroke="#000" stroke-width="1.4"/>
<line x1="781.4" y1="309.1" x2="781.4" y2="301.75" stroke="#000" stroke-width="1.4"/>
<line x1="435.67" y1="309.1" x2="435.67" y2="316.45" stroke="#000" stroke-width="1.4"/>
<line x1="435.67" y1="606.8" x2="435.67" y2="599.45" stroke="#000" stroke-width="1.4"/>
<line x1="445.18" y1="309.1" x2="445.18" y2="316.45" stroke="#000" stroke-width="1.4"/>
<line x1="445.18" y1="606.8" x2="445.18" y2="599.45" stroke="#000" stroke-width="1.4"/>
<line x1="453.56" y1="309.1" x2="453.56" y2="316.45" stroke="#000" stroke-width="1.4"/>
<line x1="453.56" y1="606.8" x2="453.56" y2="599.45" stroke="#000" stroke-width="1.4"/>
<line x1="461.06" y1="309.1" x2="461.06" y2="323.7" stroke="#000" stroke-width="1.4"/>
<line x1="461.06" y1="606.8" x2="461.06" y2="592.2" stroke="#000" stroke-width="1.4"/>
<line x1="510.41" y1="309.1" x2="510.41" y2="316.45" stroke="#000" stroke-width="1.4"/>
<line x1="510.41" y1="606.8" x2="510.41" y2="599.45" stroke="#000" stroke-width="1.4"/>
<line x1="539.27" y1="309.1" x2="539.27" y2="316.45" stroke="#000" stroke-width="1.4"/>
<line x1="539.27" y1="606.8" x2="539.27" y2="599.45" stroke="#000" stroke-width="1.4"/>
<line x1="559.75" y1="309.1" x2="559.75" y2="316.45" stroke="#000" stroke-width="1.4"/>
<line x1="559.75" y1="606.8" x2="559.75" y2="599.45" stroke="#000" stroke-width="1.4"/>
<line x1="575.64" y1="309.1" x2="575.64" y2="316.45" stroke="#000" stroke-width="1.4"/>
<line x1="575.64" y1="606.8" x2="575.64" y2="599.45" stroke="#000" stroke-width="1.4"/>
<line x1="588.62" y1="309.1" x2="588.62" y2="316.45" stroke="#000" stroke-width="1.4"/>
<line x1="588.62" y1="606.8" x2="588.62" y2="599.45" stroke="#000" stroke-width="1.4"/>
<line x1="599.59" y1="309.1" x2="599.59" y2="316.45" stroke="#000" stroke-width="1.4"/>
<line x1="599.59" y1="606.8" x2="599.59" y2="599.45" stroke="#000" stroke-width="1.4"/>
<line x1="609.1" y1="309.1" x2="609.1" y2="316.45" stroke="#000" stroke-width="1.4"/>
<line x1="609.1" y1="606.8" x2="609.1" y2="599.45" stroke="#000" stroke-width="1.4"/>
<line x1="617.48" y1="309.1" x2="617.48" y2="316.45" stroke="#000" stroke-width="1.4"/>
<line x1="617.48" y1="606.8" x2="617.48" y2="599.45" stroke="#000" stroke-width="1.4"/>
<line x1="624.98" y1="309.1" x2="624.98" y2="323.7" stroke="#000" stroke-width="1.4"/>
<line x1="624.98" y1="606.8" x2="624.98" y2="592.2" stroke="#000" stroke-width="1.4"/>
<line x1="674.33" y1="309.1" x2="674.33" y2="316.45" stroke="#000" stroke-width="1.4"/>
<line x1="674.33" y1="606.8" x2="674.33" y2="599.45" stroke="#000" stroke-width="1.4"/>
<line x1="703.19" y1="309.1" x2="703.19" y2="316.45" stroke="#000" stroke-width="1.4"/>
<line x1="703.19" y1="606.8" x2="703.19" y2="599.45" stroke="#000" stroke-width="1.4"/>
<line x1="723.67" y1="309.1" x2="723.67" y2="316.45" stroke="#000" stroke-width="1.4"/>
<line x1="723.67" y1="606.8" x2="723.67" y2="599.45" stroke="#000" stroke-width="1.4"/>
<line x1="739.56" y1="309.1" x2="739.56" y2="316.45" stroke="#000" stroke-width="1.4"/>
<line x1="739.56" y1="606.8" x2="739.56" y2="599.45" stroke="#000" stroke-width="1.4"/>
<line x1="752.54" y1="309.1" x2="752.54" y2="316.45" stroke="#000" stroke-width="1.4"/>
<line x1="752.54" y1="606.8" x2="752.54" y2="599.45" stroke="#000" stroke-width="1.4"/>
<line x1="763.51" y1="309.1" x2="763.51" y2="316.45" stroke="#000" stroke-width="1.4"/>
<line x1="763.51" y1="606.8" x2="763.51" y2="599.45" stroke="#000" stroke-width="1.4"/>
<line x1="773.01" y1="309.1" x2="773.01" y2="316.45" stroke="#000" stroke-width="1.4"/>
<line x1="773.01" y1="606.8" x2="773.01" y2="599.45" stroke="#000" stroke-width="1.4"/>
<line x1="781.4" y1="309.1" x2="781.4" y2="316.45" stroke="#000" stroke-width="1.4"/>
<line x1="781.4" y1="606.8" x2="781.4" y2="599.45" stroke="#000" stroke-width="1.4"/>
<line x1="50" y1="93.95" x2="64.6" y2="93.95" stroke="#000" stroke-width="1.4"/>
<line x1="413.9" y1="93.95" x2="399.3" y2="93.95" stroke="#000" stroke-width="1.4"/>
<line x1="50" y1="176.7" x2="64.6" y2="176.7" stroke="#000" stroke-width="1.4"/>
<line x1="413.9" y1="176.7" x2="399.3" y2="176.7" stroke="#000" stroke-width="1.4"/>
<line x1="50" y1="259.45" x2="64.6" y2="259.45" stroke="#000" stroke-width="1.4"/>
<line x1="413.9" y1="259.45" x2="399.3" y2="259.45" stroke="#000" stroke-width="1.4"/>
<line x1="50" y1="52.57" x2="57.35" y2="52.57" stroke="#000" stroke-width="1.4"/>
<line x1="413.9" y1="52.57" x2="406.55" y2="52.57" stroke="#000" stroke-width="1.4"/>
<line x1="50" y1="135.32" x2="57.35" y2="135.32" stroke="#000" stroke-width="1.4"/>
<line x1="413.9" y1="135.32" x2="406.55" y2="135.32" stroke="#000" stroke-width="1.4"/>
<line x1="50" y1="218.08" x2="57.35" y2="218.08" stroke="#000" stroke-width="1.4"/>
<line x1="413.9" y1="218.08" x2="406.55" y2="218.08" stroke="#000" stroke-width="1.4"/>
<line x1="50" y1="300.82" x2="57.35" y2="300.82" stroke="#000" stroke-width="1.4"/>
<line x1="413.9" y1="300.82" x2="406.55" y2="300.82" stroke="#000" stroke-width="1.4"/>
<line x1="424.9" y1="223.99" x2="439.5" y2="223.99" stroke="#000" stroke-width="1.4"/>
<line x1="789.1" y1="223.99" x2="774.5" y2="223.99" stroke="#000" stroke-width="1.4"/>
<line x1="424.9" y1="138.87" x2="439.5" y2="138.87" stroke="#000" stroke-width="1.4"/>
<line x1="789.1" y1="138.87" x2="774.5" y2="138.87" stroke="#000" stroke-width="1.4"/>
<line x1="424.9" y1="53.76" x2="439.5" y2="53.76" stroke="#000" stroke-width="1.4"/>
<line x1="789.1" y1="53.76" x2="774.5" y2="53.76" stroke="#000" stroke-width="1.4"/>
<line x1="424.9" y1="266.54" x2="432.25" y2="266.54" stroke="#000" stroke-width="1.4"/>
<line x1="789.1" y1="266.54" x2="781.75" y2="266.54" stroke="#000" stroke-width="1.4"/>
<line x1="424.9" y1="181.43" x2="432.25" y2="181.43" stroke="#000" stroke-width="1.4"/>
<line x1="789.1" y1="181.43" x2="781.75" y2="181.43" stroke="#000" stroke-width="1.4"/>
<line x1="424.9" y1="96.31" x2="432.25" y2="96.31" stroke="#000" stroke-width="1.4"/>
<line x1="789.1" y1="96.31" x2="781.75" y2="96.31" stroke="#000" stroke-width="1.4"/>
<line x1="50" y1="487.72" x2="64.6" y2="487.72" stroke="#000" stroke-width="1.4"/>
<line x1="413.9" y1="487.72" x2="399.3" y2="487.72" stroke="#000" stroke-width="1.4"/>
<line x1="50" y1="368.64" x2="64.6" y2="368.64" stroke="#000" stroke-width="1.4"/>
<line x1="413.9" y1="368.64" x2="399.3" y2="368.64" stroke="#000" stroke-width="1.4"/>
<line x1="50" y1="547.26" x2="57.35" y2="547.26" stroke="#000" stroke-width="1.4"/>
<line x1="413.9" y1="547.26" x2="406.55" y2="547.26" stroke="#000" stroke-width="1.4"/>
<line x1="50" y1="428.18" x2="57.35" y2="428.18" stroke="#000" stroke-width="1.4"/>
<line x1="413.9" y1="428.18" x2="406.55" y2="428.18" stroke="#000" stroke-width="1.4"/>
<line x1="424.9" y1="392.75" x2="439.5" y2="392.75" stroke="#000" stroke-width="1.4"/>
<line x1="789.1" y1="392.75" x2="774.5" y2="392.75" stroke="#000" stroke-width="1.4"/>
<line x1="424.9" y1="521.85" x2="439.5" y2="521.85" stroke="#000" stroke-width="1.4"/>
<line x1="789.1" y1="521.85" x2="774.5" y2="521.85" stroke="#000" stroke-width="1.4"/>
<line x1="424.9" y1="589.35" x2="432.25" y2="589.35" stroke="#000" stroke-width="1.4"/>
<line x1="789.1" y1="589.35" x2="781.75" y2="589.35" stroke="#000" stroke-width="1.4"/>
<line x1="424.9" y1="573.22" x2="432.25" y2="573.22" stroke="#000" stroke-width="1.4"/>
<line x1="789.1" y1="573.22" x2="781.75" y2="573.22" stroke="#000" stroke-width="1.4"/>
<line x1="424.9" y1="560.71" x2="432.25" y2="560.71" stroke="#000" stroke-width="1.4"/>
<line x1="789.1" y1="560.71" x2="781.75" y2="560.71" stroke="#000" stroke-width="1.4"/>
<line x1="424.9" y1="550.49" x2="432.25" y2="550.49" stroke="#000" stroke-width="1.4"/>
<line x1="789.1" y1="550.49" x2="781.75" y2="550.49" stroke="#000" stroke-width="1.4"/>
<line x1="424.9" y1="541.85" x2="432.25" y2="541.85" stroke="#000" stroke-width="1.4"/>
<line x1="789.1" y1="541.85" x2="781.75" y2="541.85" stroke="#000" stroke-width="1.4"/>
<line x1="424.9" y1="534.36" x2="432.25" y2="534.36" stroke="#000" stroke-width="1.4"/>
<line x1="789.1" y1="534.36" x2="781.75" y2="534.36" stroke="#000" stroke-width="1.4"/>
<line x1="424.9" y1="527.76" x2="432.25" y2="527.76" stroke="#000" stroke-width="1.4"/>
<line x1="789.1" y1="527.76" x2="781.75" y2="527.76" stroke="#000" stroke-width="1.4"/>
<line x1="424.9" y1="482.99" x2="432.25" y2="482.99" stroke="#000" stroke-width="1.4"/>
<line x1="789.1" y1="482.99" x2="781.75" y2="482.99" stroke="#000" stroke-width="1.4"/>
<line x1="424.9" y1="460.25" x2="432.25" y2="460.25" stroke="#000" stroke-width="1.4"/>
<line x1="789.1" y1="460.25" x2="781.75" y2="460.25" stroke="#000" stroke-width="1.4"/>
<line x1="424.9" y1="444.12" x2="432.25" y2="444.12" stroke="#000" stroke-width="1.4"/>
<line x1="789.1" y1="444.12" x2="781.75" y2="444.12" stroke="#000" stroke-width="1.4"/>
<line x1="424.9" y1="431.61" x2="432.25" y2="431.61" stroke="#000" stroke-width="1.4"/>
<line x1="789.1" y1="431.61" x2="781.75" y2="431.61" stroke="#000" stroke-width="1.4"/>
<line x1="424.9" y1="421.39" x2="432.25" y2="421.39" stroke="#000" stroke-width="1.4"/>
<line x1="789.1" y1="421.39" x2="781.75" y2="421.39" stroke="#000" stroke-width="1.4"/>
<line x1="424.9" y1="412.75" x2="432.25" y2="412.75" stroke="#000" stroke-width="1.4"/>
<line x1="789.1" y1="412.75" x2="781.75" y2="412.75" stroke="#000" stroke-width="1.4"/>
<line x1="424.9" y1="405.26" x2="432.25" y2="405.26" stroke="#000" stroke-width="1.4"/>
<line x1="789.1" y1="405.26" x2="781.75" y2="405.26" stroke="#000" stroke-width="1.4"/>
<line x1="424.9" y1="398.66" x2="432.25" y2="398.66" stroke="#000" stroke-width="1.4"/>
<line x1="789.1" y1="398.66" x2="781.75" y2="398.66" stroke="#000" stroke-width="1.4"/>
<line x1="424.9" y1="353.89" x2="432.25" y2="353.89" stroke="#000" stroke-width="1.4"/>
<line x1="789.1" y1="353.89" x2="781.75" y2="353.89" stroke="#000" stroke-width="1.4"/>
<line x1="424.9" y1="331.15" x2="432.25" y2="331.15" stroke="#000" stroke-width="1.4"/>
<line x1="789.1" y1="331.15" x2="781.75" y2="331.15" stroke="#000" stroke-width="1.4"/>
<line x1="424.9" y1="315.02" x2="432.25" y2="315.02" stroke="#000" stroke-width="1.4"/>
<line x1="789.1" y1="315.02" x2="781.75" y2="315.02" stroke="#000" stroke-width="1.4"/>
<rect x="50" y="11.2" width="363.9" height="297.9" fill="none" stroke="#000" stroke-width="1.55"/>
<rect x="424.9" y="11.2" width="364.2" height="297.9" fill="none" stroke="#000" stroke-width="1.55"/>
<rect x="50" y="309.1" width="363.9" height="297.7" fill="none" stroke="#000" stroke-width="1.55"/>
<rect x="424.9" y="309.1" width="364.2" height="297.7" fill="none" stroke="#000" stroke-width="1.55"/>
<text x="42.8" y="20.46" font-family='"Liberation Serif", serif' font-size="26.5" text-anchor="end" fill="#000">0</text>
<text x="42.8" y="102.91" font-family='"Liberation Serif", serif' font-size="26.5" text-anchor="end" fill="#000">-0.2</text>
<text x="42.8" y="185.66" font-family='"Liberation Serif", serif' font-size="26.5" text-anchor="end" fill="#000">-0.4</text>
<text x="42.8" y="268.41" font-family='"Liberation Serif", serif' font-size="26.5" text-anchor="end" fill="#000">-0.6</text>
<text x="42.8" y="377" font-family='"Liberation Serif", serif' font-size="26.5" text-anchor="end" fill="#000">0.4</text>
<text x="42.8" y="496.08" font-family='"Liberation Serif", serif' font-size="26.5" text-anchor="end" fill="#000">0.2</text>
<text x="42.8" y="616.06" font-family='"Liberation Serif", serif' font-size="26.5" text-anchor="end" fill="#000">0</text>
<text x="796.1" y="62.71" font-family='"Liberation Serif", serif' font-size="26.5" text-anchor="start" fill="#000">0.6</text>
<text x="796.1" y="147.83" font-family='"Liberation Serif", serif' font-size="26.5" text-anchor="start" fill="#000">0.4</text>
<text x="796.1" y="232.94" font-family='"Liberation Serif", serif' font-size="26.5" text-anchor="start" fill="#000">0.2</text>
<text x="796.1" y="317.36" font-family='"Liberation Serif", serif' font-size="26.5" text-anchor="start" fill="#000">0</text>
<text x="796.1" y="401.71" font-family='"Liberation Serif", serif' font-size="26.5" text-anchor="start" fill="#000">1</text>
<text x="796.1" y="530.81" font-family='"Liberation Serif", serif' font-size="26.5" text-anchor="start" fill="#000">0.<tspan dx="-1.8">1</tspan></text>
<text x="86.03" y="632.2" font-family='"Liberation Serif", serif' font-size="26.5" text-anchor="middle" fill="#000">0.<tspan dx="-1.8">1</tspan></text>
<text x="251.32" y="632.2" font-family='"Liberation Serif", serif' font-size="26.5" text-anchor="middle" fill="#000">1</text>
<text x="415" y="632.2" font-family='"Liberation Serif", serif' font-size="26.5" text-anchor="middle" fill="#000">10</text>
<text x="461.66" y="632.2" font-family='"Liberation Serif", serif' font-size="26.5" text-anchor="middle" fill="#000">0.<tspan dx="-1.8">1</tspan></text>
<text x="626.38" y="632.2" font-family='"Liberation Serif", serif' font-size="26.5" text-anchor="middle" fill="#000">1</text>
<text x="790.2" y="632.2" font-family='"Liberation Serif", serif' font-size="26.5" text-anchor="middle" fill="#000">10</text>
<text x="231.05" y="659.8" font-family='"Liberation Serif", serif' font-size="31.5" text-anchor="middle" fill="#000" font-style="italic">T</text>
<text x="606.1" y="659.8" font-family='"Liberation Serif", serif' font-size="31.5" text-anchor="middle" fill="#000" font-style="italic">T</text>
<text x="65" y="50" font-family='"Liberation Serif", serif' font-size="26.5" fill="#000" xml:space="preserve">(a)</text>
<text x="102.8" y="50" font-family='"Liberation Serif", serif' font-size="26.5" fill="#000" font-style="italic" xml:space="preserve">E</text>
<text x="445.2" y="48" font-family='"Liberation Serif", serif' font-size="26.5" fill="#000" xml:space="preserve">(b)</text>
<text x="482.8" y="48" font-family='"Liberation Serif", serif' font-size="26.5" fill="#000" font-style="italic" xml:space="preserve">S</text>
<text x="61.2" y="349.3" font-family='"Liberation Serif", serif' font-size="26.5" fill="#000" xml:space="preserve">(c)</text>
<text x="99" y="349.3" font-family='"Liberation Serif", serif' font-size="26.5" fill="#000" font-style="italic" xml:space="preserve">C</text>
<text transform="translate(116.3 360) scale(1.080 1.000)" font-family='"Liberation Serif", serif' font-size="20.5" fill="#000" xml:space="preserve">ν</text>
<text x="434.5" y="345.7" font-family='"Liberation Serif", serif' font-size="26.5" fill="#000" xml:space="preserve">(d)</text>
<g transform="translate(472.3 345.7)">
<path d="M10.2 -13.5 L12.9 -13.7 L3.4 4.8 L0.3 5.1 Z" fill="#000"/>
<path d="M-0.14 -9.12 C-0.05 -9.59 0.08 -11.21 0.38 -11.94 C0.68 -12.67 1.19 -13.16 1.66 -13.48 C2.13 -13.8 2.69 -14.02 3.2 -13.89 C3.71 -13.76 4.31 -13.38 4.74 -12.71 C5.17 -12.04 5.47 -10.96 5.77 -9.89 C6.07 -8.82 6.24 -7.58 6.54 -6.29 C6.84 -5 7.23 -3.46 7.57 -2.18 C7.91 -0.9 8.21 0.34 8.59 1.41 C8.97 2.48 9.45 3.62 9.88 4.24 C10.31 4.86 10.73 5.15 11.16 5.11 C11.59 5.07 12.11 4.51 12.45 3.98 C12.79 3.45 13.02 2.53 13.22 1.93 C13.42 1.33 13.56 0.65 13.63 0.39" fill="none" stroke="#000" stroke-width="1.1" stroke-linecap="round" stroke-linejoin="round"/>
<path d="M1.5 -13.2 L3.2 -13.6 L4.6 -12.4 L5.4 -10.4" fill="none" stroke="#000" stroke-width="1.8" stroke-linecap="round" stroke-linejoin="round"/>
<path d="M9.4 3.4 L10.2 4.5 L11.2 4.8 L12.3 3.8" fill="none" stroke="#000" stroke-width="1.8" stroke-linecap="round" stroke-linejoin="round"/>
</g>
<g transform="translate(558.1 402.6)">
<path d="M10.2 -13.5 L12.9 -13.7 L3.4 4.8 L0.3 5.1 Z" fill="#670748"/>
<path d="M-0.14 -9.12 C-0.05 -9.59 0.08 -11.21 0.38 -11.94 C0.68 -12.67 1.19 -13.16 1.66 -13.48 C2.13 -13.8 2.69 -14.02 3.2 -13.89 C3.71 -13.76 4.31 -13.38 4.74 -12.71 C5.17 -12.04 5.47 -10.96 5.77 -9.89 C6.07 -8.82 6.24 -7.58 6.54 -6.29 C6.84 -5 7.23 -3.46 7.57 -2.18 C7.91 -0.9 8.21 0.34 8.59 1.41 C8.97 2.48 9.45 3.62 9.88 4.24 C10.31 4.86 10.73 5.15 11.16 5.11 C11.59 5.07 12.11 4.51 12.45 3.98 C12.79 3.45 13.02 2.53 13.22 1.93 C13.42 1.33 13.56 0.65 13.63 0.39" fill="none" stroke="#670748" stroke-width="1.1" stroke-linecap="round" stroke-linejoin="round"/>
<path d="M1.5 -13.2 L3.2 -13.6 L4.6 -12.4 L5.4 -10.4" fill="none" stroke="#670748" stroke-width="1.8" stroke-linecap="round" stroke-linejoin="round"/>
<path d="M9.4 3.4 L10.2 4.5 L11.2 4.8 L12.3 3.8" fill="none" stroke="#670748" stroke-width="1.8" stroke-linecap="round" stroke-linejoin="round"/>
</g>
<rect x="578.8" y="392.1" width="13.8" height="1.8" fill="#670748"/>
<rect x="578.8" y="397.2" width="13.8" height="1.8" fill="#670748"/>
<text x="599.7" y="402.6" font-family='"Liberation Serif", serif' font-size="26.5" fill="#670748" xml:space="preserve">0.25/</text>
<text x="652.9" y="402.6" font-family='"Liberation Serif", serif' font-size="26.5" fill="#670748" font-style="italic" xml:space="preserve">T</text>
<text x="272.6" y="162" font-family='"Liberation Serif", serif' font-size="26" fill="#000" xml:space="preserve">Disordered</text>
<line x1="269" y1="183.5" x2="306.9" y2="183.5" stroke="#9400d3" stroke-width="1.8"/>
<text x="321.5" y="192" font-family='"Liberation Serif", serif' font-size="26.5" fill="#000" font-style="italic" xml:space="preserve">l</text>
<rect x="336.7" y="181.5" width="13.8" height="1.8" fill="#000"/>
<rect x="336.7" y="186.6" width="13.8" height="1.8" fill="#000"/>
<text x="359.8" y="192" font-family='"Liberation Serif", serif' font-size="26.5" fill="#000" xml:space="preserve">12</text>
<line x1="269" y1="209" x2="306.9" y2="209" stroke="#ffa500" stroke-width="1.8"/>
<text x="321.5" y="217.1" font-family='"Liberation Serif", serif' font-size="26.5" fill="#000" font-style="italic" xml:space="preserve">l</text>
<rect x="336.7" y="206.6" width="13.8" height="1.8" fill="#000"/>
<rect x="336.7" y="211.7" width="13.8" height="1.8" fill="#000"/>
<text x="359.8" y="217.1" font-family='"Liberation Serif", serif' font-size="26.5" fill="#000" xml:space="preserve">13</text>
<line x1="269" y1="239.4" x2="306.9" y2="239.4" stroke="#ff0000" stroke-width="3.3"/>
<text x="321.8" y="242.7" font-family='"Liberation Serif", serif' font-size="26.5" fill="#000" xml:space="preserve">Wynn</text>
<text x="384.6" y="253.6" font-family='"Liberation Serif", serif' font-size="19.2" fill="#000" xml:space="preserve">6</text>
<line x1="269" y1="275" x2="306.9" y2="275" stroke="#00ff00" stroke-width="3.3"/>
<text x="321.6" y="278.6" font-family='"Liberation Serif", serif' font-size="26.5" fill="#000" xml:space="preserve">Euler</text>
<text x="377.8" y="288.6" font-family='"Liberation Serif", serif' font-size="19.2" fill="#000" xml:space="preserve">11</text>
<text x="669.8" y="162" font-family='"Liberation Serif", serif' font-size="26" fill="#000" xml:space="preserve">Clean</text>
<line x1="648.3" y1="183.5" x2="686" y2="183.5" stroke="#00ffff" stroke-width="1.8" stroke-dasharray="8.9 4.6"/>
<text x="700.7" y="192" font-family='"Liberation Serif", serif' font-size="26.5" fill="#000" font-style="italic" xml:space="preserve">l</text>
<rect x="715.9" y="181.5" width="13.8" height="1.8" fill="#000"/>
<rect x="715.9" y="186.6" width="13.8" height="1.8" fill="#000"/>
<text x="739" y="192" font-family='"Liberation Serif", serif' font-size="26.5" fill="#000" xml:space="preserve">14</text>
<line x1="648.3" y1="209" x2="686" y2="209" stroke="#008b00" stroke-width="1.8" stroke-dasharray="8.9 4.6"/>
<text x="700.7" y="217.1" font-family='"Liberation Serif", serif' font-size="26.5" fill="#000" font-style="italic" xml:space="preserve">l</text>
<rect x="715.9" y="206.6" width="13.8" height="1.8" fill="#000"/>
<rect x="715.9" y="211.7" width="13.8" height="1.8" fill="#000"/>
<text x="739" y="217.1" font-family='"Liberation Serif", serif' font-size="26.5" fill="#000" xml:space="preserve">15</text>
<line x1="648.3" y1="239.4" x2="686" y2="239.4" stroke="#0000ff" stroke-width="3.3" stroke-dasharray="14.4 7.9"/>
<text x="701" y="242.7" font-family='"Liberation Serif", serif' font-size="26.5" fill="#000" xml:space="preserve">Wynn</text>
<text x="763.8" y="253.6" font-family='"Liberation Serif", serif' font-size="19.2" fill="#000" xml:space="preserve">7</text>
<line x1="648.3" y1="275" x2="686" y2="275" stroke="#7221bc" stroke-width="3.3" stroke-dasharray="14.4 7.9"/>
<text x="700.8" y="278.6" font-family='"Liberation Serif", serif' font-size="26.5" fill="#000" xml:space="preserve">Euler</text>
<text x="757.8" y="288.6" font-family='"Liberation Serif", serif' font-size="19.2" fill="#000" xml:space="preserve">12</text>
</svg>
</body>
</html>
